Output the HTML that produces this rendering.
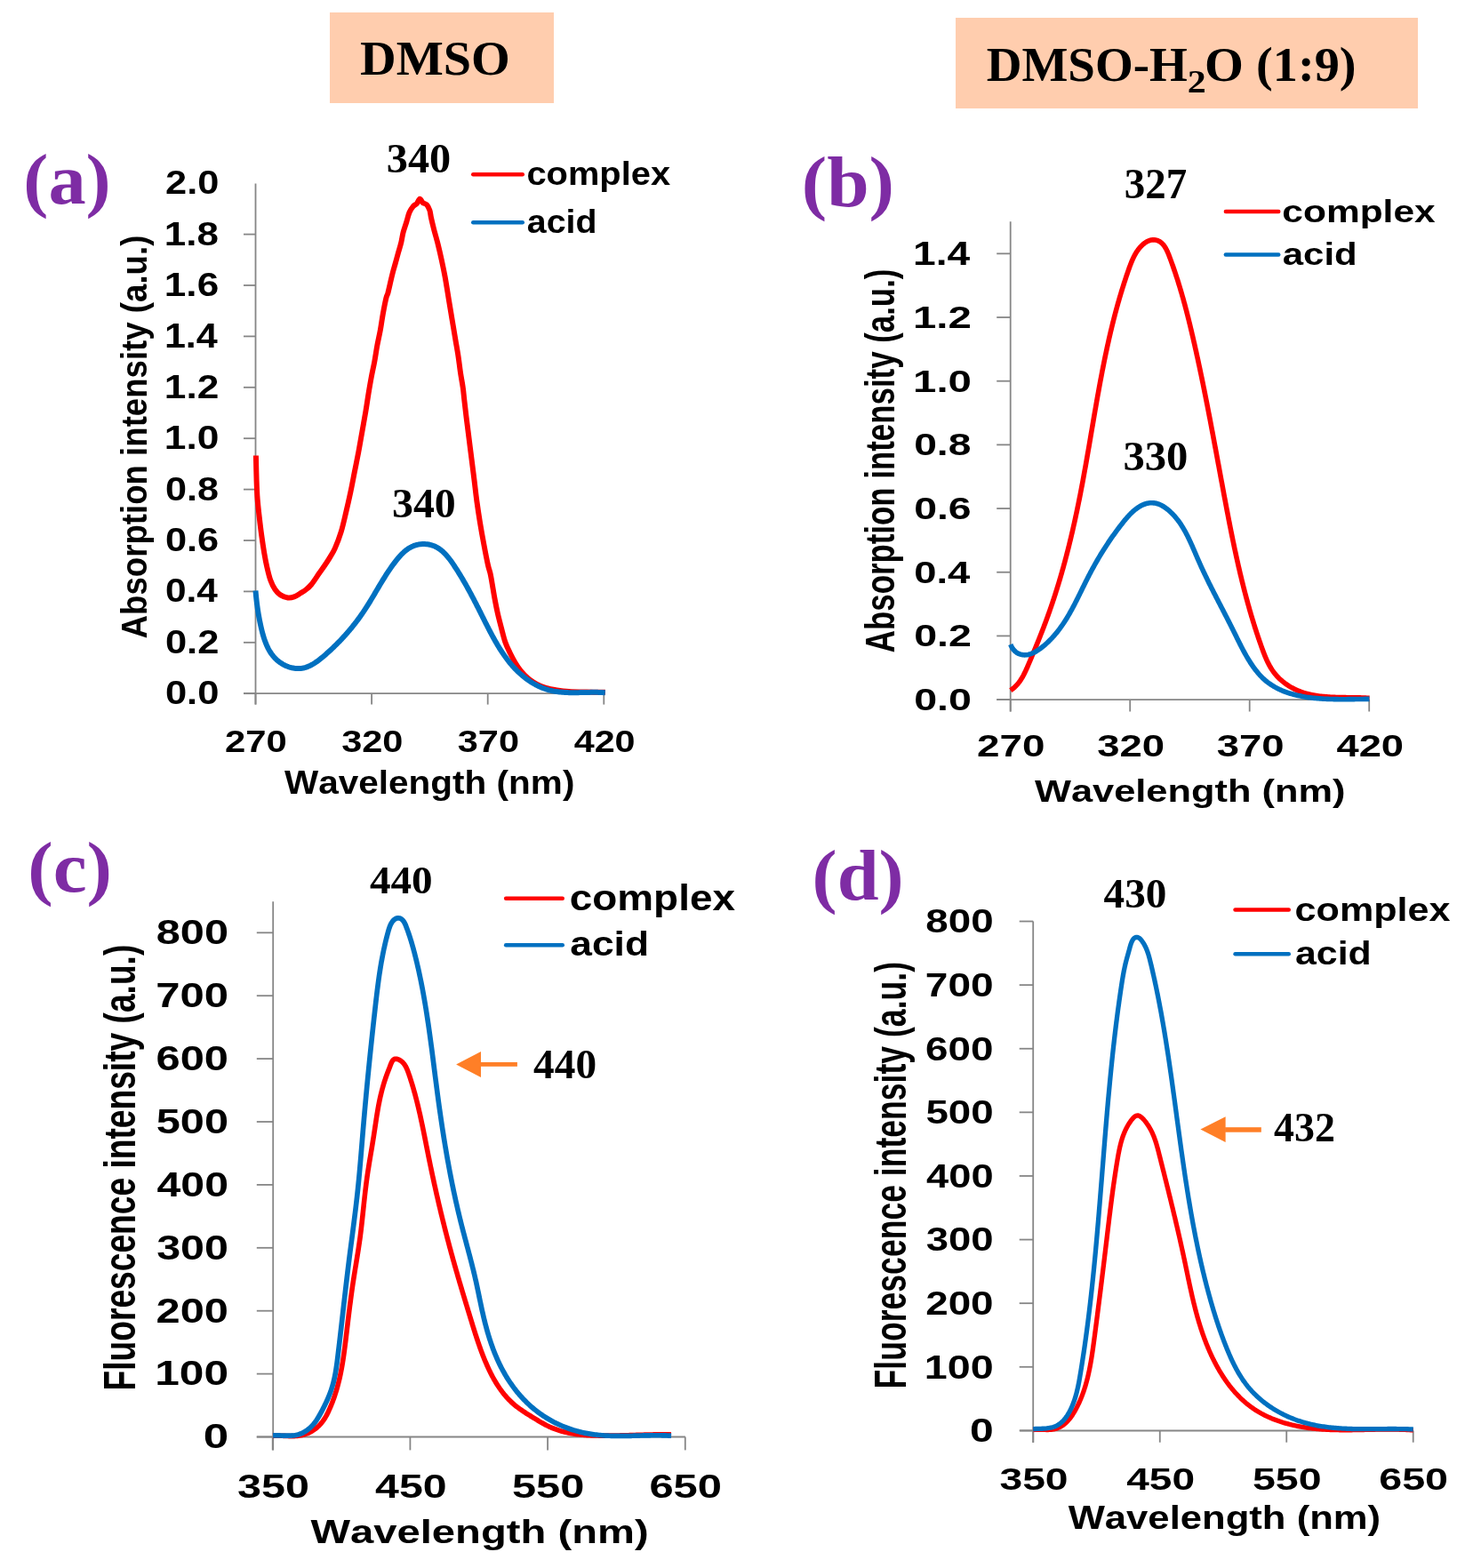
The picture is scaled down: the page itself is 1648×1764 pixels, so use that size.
<!DOCTYPE html>
<html><head><meta charset="utf-8"><title>Absorption and fluorescence spectra</title>
<style>
html,body{margin:0;padding:0;background:#fff;}
svg{display:block;}
text{font-kerning:none;font-variant-ligatures:none;}
</style></head><body>
<svg xmlns="http://www.w3.org/2000/svg" width="1648" height="1764" viewBox="0 0 1648 1764">
<rect width="1648" height="1764" fill="#fff"/>
<rect x="371" y="14" width="252" height="102" fill="#FFCDAE"/>
<text transform="translate(405.01 84.4) scale(1.0174 1)" font-family='"Liberation Serif", "Times New Roman", serif' font-weight="bold" font-size="55.29" fill="#000">DMSO</text>
<rect x="1075" y="20" width="520" height="102" fill="#FFCDAE"/>
<text transform="translate(1109.73 90.7) scale(1.0007 1)" font-family='"Liberation Serif", "Times New Roman", serif' font-weight="bold" font-size="54.98" fill="#000">DMSO-H</text>
<text transform="translate(1335.84 104.1) scale(1.1518 1)" font-family='"Liberation Serif", "Times New Roman", serif' font-weight="bold" font-size="36.4" fill="#000">2</text>
<text transform="translate(1354.95 90.7) scale(1.0259 1)" font-family='"Liberation Serif", "Times New Roman", serif' font-weight="bold" font-size="54.98" fill="#000">O (1:9)</text>
<text transform="translate(26.29 229.41) scale(1.0513 1)" font-family='"Liberation Serif", "Times New Roman", serif' font-weight="bold" font-size="80.29" fill="#7E2CA4">(a)</text>
<line x1="287.5" y1="206.4" x2="287.5" y2="792.6" stroke="#868686" stroke-width="1.8" stroke-linecap="butt"/>
<line x1="274" y1="780.2" x2="287.5" y2="780.2" stroke="#868686" stroke-width="1.8" stroke-linecap="butt"/>
<line x1="274" y1="722.8" x2="287.5" y2="722.8" stroke="#868686" stroke-width="1.8" stroke-linecap="butt"/>
<line x1="274" y1="665.4" x2="287.5" y2="665.4" stroke="#868686" stroke-width="1.8" stroke-linecap="butt"/>
<line x1="274" y1="608" x2="287.5" y2="608" stroke="#868686" stroke-width="1.8" stroke-linecap="butt"/>
<line x1="274" y1="550.6" x2="287.5" y2="550.6" stroke="#868686" stroke-width="1.8" stroke-linecap="butt"/>
<line x1="274" y1="493.2" x2="287.5" y2="493.2" stroke="#868686" stroke-width="1.8" stroke-linecap="butt"/>
<line x1="274" y1="435.8" x2="287.5" y2="435.8" stroke="#868686" stroke-width="1.8" stroke-linecap="butt"/>
<line x1="274" y1="378.4" x2="287.5" y2="378.4" stroke="#868686" stroke-width="1.8" stroke-linecap="butt"/>
<line x1="274" y1="321" x2="287.5" y2="321" stroke="#868686" stroke-width="1.8" stroke-linecap="butt"/>
<line x1="274" y1="263.6" x2="287.5" y2="263.6" stroke="#868686" stroke-width="1.8" stroke-linecap="butt"/>
<line x1="274" y1="780.2" x2="679.3" y2="780.2" stroke="#868686" stroke-width="1.8" stroke-linecap="butt"/>
<line x1="287.5" y1="780.2" x2="287.5" y2="792.6" stroke="#868686" stroke-width="1.8" stroke-linecap="butt"/>
<line x1="418.1" y1="780.2" x2="418.1" y2="792.6" stroke="#868686" stroke-width="1.8" stroke-linecap="butt"/>
<line x1="548.7" y1="780.2" x2="548.7" y2="792.6" stroke="#868686" stroke-width="1.8" stroke-linecap="butt"/>
<line x1="679.3" y1="780.2" x2="679.3" y2="792.6" stroke="#868686" stroke-width="1.8" stroke-linecap="butt"/>
<text transform="translate(185.88 792.24) scale(1.1673 1)" font-family='"Liberation Sans", Arial, sans-serif' font-weight="bold" font-size="37.29" fill="#000">0.0</text>
<text transform="translate(185.88 734.84) scale(1.1664 1)" font-family='"Liberation Sans", Arial, sans-serif' font-weight="bold" font-size="37.29" fill="#000">0.2</text>
<text transform="translate(185.92 677.44) scale(1.1364 1)" font-family='"Liberation Sans", Arial, sans-serif' font-weight="bold" font-size="37.29" fill="#000">0.4</text>
<text transform="translate(185.88 620.04) scale(1.1630 1)" font-family='"Liberation Sans", Arial, sans-serif' font-weight="bold" font-size="37.29" fill="#000">0.6</text>
<text transform="translate(185.89 562.64) scale(1.1582 1)" font-family='"Liberation Sans", Arial, sans-serif' font-weight="bold" font-size="37.29" fill="#000">0.8</text>
<text transform="translate(184.81 505.24) scale(1.1886 1)" font-family='"Liberation Sans", Arial, sans-serif' font-weight="bold" font-size="37.29" fill="#000">1.0</text>
<text transform="translate(184.81 448.2) scale(1.1713 1)" font-family='"Liberation Sans", Arial, sans-serif' font-weight="bold" font-size="37.81" fill="#000">1.2</text>
<text transform="translate(184.88 390.8) scale(1.1238 1)" font-family='"Liberation Sans", Arial, sans-serif' font-weight="bold" font-size="38.37" fill="#000">1.4</text>
<text transform="translate(184.82 333.04) scale(1.1841 1)" font-family='"Liberation Sans", Arial, sans-serif' font-weight="bold" font-size="37.29" fill="#000">1.6</text>
<text transform="translate(184.83 275.64) scale(1.1792 1)" font-family='"Liberation Sans", Arial, sans-serif' font-weight="bold" font-size="37.29" fill="#000">1.8</text>
<text transform="translate(186.1 218.24) scale(1.1630 1)" font-family='"Liberation Sans", Arial, sans-serif' font-weight="bold" font-size="37.29" fill="#000">2.0</text>
<text transform="translate(253.05 845.85) scale(1.1748 1)" font-family='"Liberation Sans", Arial, sans-serif' font-weight="bold" font-size="35.59" fill="#000">270</text>
<text transform="translate(384.15 845.8) scale(1.1686 1)" font-family='"Liberation Sans", Arial, sans-serif' font-weight="bold" font-size="35.52" fill="#000">320</text>
<text transform="translate(514.75 845.8) scale(1.1686 1)" font-family='"Liberation Sans", Arial, sans-serif' font-weight="bold" font-size="35.52" fill="#000">370</text>
<text transform="translate(645.67 845.85) scale(1.1606 1)" font-family='"Liberation Sans", Arial, sans-serif' font-weight="bold" font-size="35.59" fill="#000">420</text>
<text transform="translate(319.96 892.5) scale(1.1111 1)" font-family='"Liberation Sans", Arial, sans-serif' font-weight="bold" font-size="36.48" fill="#000">Wavelength (nm)</text>
<text transform="translate(165.3 718.41) rotate(-90) scale(0.8876 1)" font-family='"Liberation Sans", Arial, sans-serif' font-weight="bold" font-size="41.28" fill="#000">Absorption intensity (a.u.)</text>
<text transform="translate(434.78 194.15) scale(1.0381 1)" font-family='"Liberation Serif", "Times New Roman", serif' font-weight="bold" font-size="46.53" fill="#000">340</text>
<text transform="translate(441 582.35) scale(1.0423 1)" font-family='"Liberation Serif", "Times New Roman", serif' font-weight="bold" font-size="45.94" fill="#000">340</text>
<line x1="532.25" y1="196.3" x2="587.75" y2="196.3" stroke="#FF0000" stroke-width="4.5" stroke-linecap="round"/>
<line x1="532.25" y1="250.2" x2="587.75" y2="250.2" stroke="#0070C0" stroke-width="4.5" stroke-linecap="round"/>
<text transform="translate(592.44 207.8) scale(1.0839 1)" font-family='"Liberation Sans", Arial, sans-serif' font-weight="bold" font-size="36.76" fill="#000">complex</text>
<text transform="translate(592.85 261.5) scale(1.0692 1)" font-family='"Liberation Sans", Arial, sans-serif' font-weight="bold" font-size="36.76" fill="#000">acid</text>
<path d="M287.9 512.5 C288.02 517.22 288.32 532.68 288.6 540.8 C288.88 548.92 289.08 554.4 289.6 561.2 C290.12 568 290.93 574.8 291.7 581.6 C292.47 588.4 293.27 595.2 294.2 602 C295.13 608.8 296.28 616.43 297.3 622.4 C298.32 628.37 299.12 632.68 300.3 637.8 C301.48 642.92 302.87 648.85 304.4 653.1 C305.93 657.35 307.63 660.58 309.5 663.3 C311.37 666.02 313.22 667.88 315.6 669.4 C317.98 670.92 321.25 672.07 323.8 672.4 C326.35 672.73 328.52 672.25 330.9 671.4 C333.28 670.55 335.92 668.62 338.1 667.3 C340.28 665.98 341.97 665.13 344 663.5 C346.03 661.87 347.8 660.58 350.3 657.5 C352.8 654.42 356.55 648.5 359 645 C361.45 641.5 362.98 639.48 365 636.5 C367.02 633.52 369.13 630.37 371.1 627.1 C373.07 623.83 374.72 621.63 376.8 616.9 C378.88 612.17 381.52 605.52 383.6 598.7 C385.68 591.88 387.5 583.55 389.3 576 C391.1 568.45 392.8 560.95 394.4 553.4 C396 545.85 397.4 538.27 398.9 530.7 C400.4 523.13 401.98 515.55 403.4 508 C404.82 500.45 406.07 492.95 407.4 485.4 C408.73 477.85 410.22 469.77 411.4 462.7 C412.58 455.63 413.45 449.37 414.5 443 C415.55 436.63 416.57 430.55 417.7 424.5 C418.83 418.45 420.2 412.65 421.3 406.7 C422.4 400.75 423.2 394.75 424.3 388.8 C425.4 382.85 426.82 376.95 427.9 371 C428.98 365.05 429.72 359.07 430.8 353.1 C431.88 347.13 433.48 339.05 434.4 335.2 C435.32 331.35 435.52 332.87 436.3 330 C437.08 327.13 438.18 321.88 439.1 318 C440.02 314.12 440.82 310.47 441.8 306.7 C442.78 302.93 443.95 299.18 445 295.4 C446.05 291.62 447.05 287.78 448.1 284 C449.15 280.22 450.38 276.48 451.3 272.7 C452.22 268.92 452.62 265.08 453.6 261.3 C454.58 257.52 456.05 253.72 457.2 250 C458.35 246.28 459.27 241.95 460.5 239 C461.73 236.05 463.2 233.98 464.6 232.3 C466 230.62 467.62 230.32 468.9 228.9 C470.18 227.48 471.17 223.93 472.3 223.8 C473.43 223.67 474.42 227.02 475.7 228.1 C476.98 229.18 478.72 228.88 480 230.3 C481.28 231.72 482.57 234.15 483.4 236.6 C484.23 239.05 484.22 241.45 485 245 C485.78 248.55 486.78 252.78 488.1 257.9 C489.42 263.02 491.42 269.75 492.9 275.7 C494.38 281.65 495.72 287.65 497 293.6 C498.28 299.55 499.5 305.45 500.6 311.4 C501.7 317.35 502.62 323.35 503.6 329.3 C504.58 335.25 505.52 341.15 506.5 347.1 C507.48 353.05 508.5 359.03 509.5 365 C510.5 370.97 511.5 376.95 512.5 382.9 C513.5 388.85 514.6 394.75 515.5 400.7 C516.4 406.65 517.02 412.65 517.9 418.6 C518.78 424.55 520.07 431.17 520.8 436.4 C521.53 441.63 521.68 444.6 522.3 450 C522.92 455.4 523.63 461.7 524.5 468.8 C525.37 475.9 526.5 484.67 527.5 492.6 C528.5 500.53 529.5 508.47 530.5 516.4 C531.5 524.33 532.52 532.27 533.5 540.2 C534.48 548.13 535.32 556.05 536.4 564 C537.48 571.95 538.7 579.95 540 587.9 C541.3 595.85 542.72 603.77 544.2 611.7 C545.68 619.63 547.68 629.95 548.9 635.5 C550.12 641.05 550.72 641.52 551.5 645 C552.28 648.48 552.78 651.75 553.6 656.4 C554.42 661.05 555.38 667.42 556.4 672.9 C557.42 678.38 558.47 683.83 559.7 689.3 C560.93 694.77 562.37 700.22 563.8 705.7 C565.23 711.18 566.65 717.4 568.3 722.2 C569.95 727 571.85 730.67 573.7 734.5 C575.55 738.33 577.35 741.78 579.4 745.2 C581.45 748.62 583.53 751.98 586 755 C588.47 758.02 591.18 760.83 594.2 763.3 C597.22 765.77 600.8 768.03 604.1 769.8 C607.4 771.57 610.3 772.8 614 773.9 C617.7 775 621.97 775.72 626.3 776.4 C630.63 777.08 634.38 777.63 640 778 C645.62 778.37 653.2 778.47 660 778.6 C666.8 778.73 677.33 778.77 680.8 778.8" fill="none" stroke="#FF0000" stroke-width="6.0" stroke-linejoin="round" stroke-linecap="butt"/>
<path d="M287.49 664.50 L287.63 666.04 L287.76 667.57 L287.91 669.09 L288.05 670.61 L288.21 672.11 L288.37 673.60 L288.53 675.09 L288.70 676.58 L288.88 678.05 L289.06 679.52 L289.25 680.99 L289.45 682.45 L289.66 683.91 L289.87 685.37 L290.09 686.83 L290.31 688.28 L290.55 689.73 L290.79 691.19 L291.05 692.64 L291.31 694.10 L291.58 695.56 L291.86 697.02 L292.15 698.48 L292.44 699.95 L292.75 701.42 L293.07 702.90 L293.40 704.38 L293.74 705.87 L294.09 707.37 L294.45 708.87 L294.83 710.37 L295.22 711.88 L295.63 713.38 L296.05 714.88 L296.50 716.37 L296.96 717.86 L297.45 719.34 L297.96 720.80 L298.50 722.26 L299.06 723.70 L299.65 725.13 L300.26 726.54 L300.91 727.93 L301.59 729.30 L302.30 730.64 L303.04 731.96 L303.82 733.26 L304.64 734.52 L305.49 735.76 L306.39 736.96 L307.32 738.13 L308.30 739.27 L309.32 740.36 L310.38 741.42 L311.48 742.44 L312.62 743.41 L313.79 744.34 L315.00 745.23 L316.24 746.07 L317.50 746.86 L318.80 747.60 L320.11 748.29 L321.45 748.93 L322.81 749.52 L324.18 750.05 L325.56 750.52 L326.96 750.93 L328.37 751.29 L329.78 751.58 L331.20 751.81 L332.63 751.98 L334.05 752.08 L335.47 752.11 L336.88 752.07 L338.29 751.97 L339.69 751.79 L341.07 751.54 L342.45 751.22 L343.81 750.83 L345.16 750.38 L346.50 749.86 L347.83 749.29 L349.15 748.67 L350.45 747.99 L351.75 747.27 L353.03 746.50 L354.30 745.70 L355.57 744.85 L356.82 743.98 L358.06 743.07 L359.29 742.13 L360.52 741.17 L361.73 740.20 L362.93 739.20 L364.13 738.19 L365.32 737.17 L366.49 736.15 L367.66 735.11 L368.82 734.08 L369.97 733.04 L371.11 732.00 L372.25 730.95 L373.37 729.89 L374.49 728.84 L375.60 727.77 L376.70 726.71 L377.79 725.64 L378.87 724.56 L379.94 723.48 L381.01 722.40 L382.07 721.31 L383.12 720.21 L384.16 719.11 L385.19 718.01 L386.22 716.90 L387.23 715.79 L388.24 714.67 L389.24 713.55 L390.24 712.42 L391.22 711.29 L392.20 710.15 L393.16 709.01 L394.12 707.86 L395.08 706.71 L396.02 705.56 L396.96 704.40 L397.89 703.23 L398.81 702.06 L399.72 700.89 L400.63 699.70 L401.53 698.52 L402.42 697.33 L403.30 696.13 L404.18 694.93 L405.04 693.73 L405.91 692.52 L406.76 691.30 L407.60 690.08 L408.44 688.86 L409.27 687.63 L410.10 686.39 L410.91 685.15 L411.72 683.90 L412.52 682.65 L413.32 681.40 L414.11 680.14 L414.90 678.88 L415.68 677.61 L416.45 676.34 L417.23 675.06 L418.00 673.79 L418.76 672.51 L419.53 671.22 L420.29 669.94 L421.05 668.65 L421.81 667.36 L422.58 666.07 L423.34 664.78 L424.10 663.49 L424.86 662.20 L425.63 660.91 L426.40 659.61 L427.17 658.32 L427.94 657.03 L428.72 655.73 L429.50 654.44 L430.29 653.15 L431.08 651.86 L431.88 650.57 L432.69 649.29 L433.50 648.01 L434.32 646.72 L435.14 645.45 L435.98 644.17 L436.82 642.90 L437.68 641.63 L438.54 640.36 L439.41 639.10 L440.30 637.84 L441.19 636.59 L442.10 635.34 L443.02 634.10 L443.95 632.86 L444.90 631.62 L445.85 630.40 L446.83 629.19 L447.82 627.99 L448.83 626.81 L449.85 625.65 L450.89 624.52 L451.96 623.42 L453.04 622.35 L454.14 621.31 L455.27 620.32 L456.41 619.37 L457.58 618.46 L458.78 617.60 L460.00 616.79 L461.25 616.05 L462.52 615.36 L463.82 614.73 L465.15 614.17 L466.50 613.67 L467.88 613.24 L469.27 612.88 L470.68 612.57 L472.10 612.34 L473.52 612.17 L474.96 612.06 L476.40 612.02 L477.84 612.05 L479.27 612.14 L480.70 612.29 L482.12 612.51 L483.53 612.79 L484.92 613.14 L486.30 613.55 L487.65 614.03 L488.98 614.57 L490.28 615.18 L491.56 615.85 L492.80 616.58 L494.01 617.37 L495.20 618.21 L496.35 619.10 L497.49 620.05 L498.59 621.04 L499.68 622.08 L500.73 623.15 L501.77 624.26 L502.79 625.41 L503.79 626.58 L504.76 627.78 L505.72 629.01 L506.66 630.26 L507.59 631.53 L508.50 632.81 L509.40 634.10 L510.28 635.41 L511.15 636.72 L512.01 638.03 L512.86 639.34 L513.70 640.65 L514.53 641.96 L515.35 643.27 L516.16 644.58 L516.96 645.88 L517.76 647.18 L518.55 648.49 L519.33 649.79 L520.10 651.09 L520.86 652.38 L521.62 653.68 L522.37 654.98 L523.12 656.28 L523.86 657.57 L524.59 658.87 L525.31 660.17 L526.04 661.46 L526.75 662.76 L527.46 664.06 L528.17 665.36 L528.87 666.65 L529.57 667.95 L530.26 669.25 L530.96 670.55 L531.64 671.86 L532.33 673.16 L533.01 674.47 L533.69 675.77 L534.36 677.08 L535.04 678.39 L535.71 679.71 L536.38 681.02 L537.05 682.34 L537.72 683.66 L538.39 684.98 L539.06 686.30 L539.72 687.63 L540.39 688.96 L541.06 690.29 L541.73 691.63 L542.40 692.97 L543.07 694.31 L543.74 695.66 L544.41 697.01 L545.09 698.36 L545.76 699.71 L546.44 701.06 L547.13 702.41 L547.81 703.76 L548.50 705.12 L549.19 706.47 L549.89 707.82 L550.59 709.17 L551.30 710.52 L552.01 711.87 L552.72 713.22 L553.44 714.56 L554.17 715.90 L554.90 717.24 L555.64 718.57 L556.39 719.90 L557.14 721.22 L557.90 722.54 L558.66 723.86 L559.44 725.17 L560.22 726.47 L561.01 727.77 L561.81 729.06 L562.62 730.34 L563.43 731.62 L564.26 732.89 L565.10 734.15 L565.94 735.40 L566.80 736.64 L567.66 737.88 L568.54 739.10 L569.43 740.32 L570.33 741.53 L571.24 742.72 L572.16 743.90 L573.10 745.08 L574.05 746.24 L575.01 747.38 L575.98 748.52 L576.97 749.64 L577.97 750.75 L578.99 751.85 L580.02 752.93 L581.06 754.00 L582.12 755.06 L583.19 756.10 L584.28 757.12 L585.39 758.13 L586.51 759.12 L587.64 760.10 L588.79 761.05 L589.96 761.99 L591.14 762.91 L592.33 763.81 L593.54 764.69 L594.76 765.55 L596.00 766.39 L597.25 767.20 L598.51 767.99 L599.79 768.76 L601.08 769.51 L602.38 770.23 L603.70 770.92 L605.03 771.59 L606.37 772.23 L607.72 772.84 L609.08 773.43 L610.46 773.98 L611.85 774.51 L613.25 775.00 L614.66 775.47 L616.08 775.90 L617.51 776.31 L618.95 776.68 L620.41 777.01 L621.87 777.32 L623.34 777.60 L624.82 777.85 L626.31 778.08 L627.80 778.28 L629.31 778.46 L630.81 778.61 L632.33 778.74 L633.85 778.86 L635.37 778.95 L636.90 779.03 L638.43 779.09 L639.97 779.13 L641.51 779.16 L643.05 779.18 L644.59 779.19 L646.14 779.19 L647.68 779.18 L649.23 779.16 L650.77 779.14 L652.31 779.11 L653.86 779.08 L655.40 779.04 L656.94 779.01 L658.47 778.97 L660.00 778.94 L661.53 778.91 L663.05 778.88 L664.57 778.86 L666.08 778.84 L667.59 778.83 L669.09 778.83 L670.58 778.84 L672.07 778.86 L673.55 778.90 L675.01 778.95 L676.47 779.01 L677.92 779.09 L679.36 779.19 L680.79 779.31" fill="none" stroke="#0070C0" stroke-width="6.0" stroke-linejoin="round" stroke-linecap="butt"/>
<text transform="translate(901.75 232.01) scale(1.0571 1)" font-family='"Liberation Serif", "Times New Roman", serif' font-weight="bold" font-size="80.73" fill="#7E2CA4">(b)</text>
<line x1="1136.7" y1="249.2" x2="1136.7" y2="800.5" stroke="#868686" stroke-width="1.8" stroke-linecap="butt"/>
<line x1="1121.2" y1="787.1" x2="1136.7" y2="787.1" stroke="#868686" stroke-width="1.8" stroke-linecap="butt"/>
<line x1="1121.2" y1="715.42" x2="1136.7" y2="715.42" stroke="#868686" stroke-width="1.8" stroke-linecap="butt"/>
<line x1="1121.2" y1="643.74" x2="1136.7" y2="643.74" stroke="#868686" stroke-width="1.8" stroke-linecap="butt"/>
<line x1="1121.2" y1="572.06" x2="1136.7" y2="572.06" stroke="#868686" stroke-width="1.8" stroke-linecap="butt"/>
<line x1="1121.2" y1="500.38" x2="1136.7" y2="500.38" stroke="#868686" stroke-width="1.8" stroke-linecap="butt"/>
<line x1="1121.2" y1="428.7" x2="1136.7" y2="428.7" stroke="#868686" stroke-width="1.8" stroke-linecap="butt"/>
<line x1="1121.2" y1="357.02" x2="1136.7" y2="357.02" stroke="#868686" stroke-width="1.8" stroke-linecap="butt"/>
<line x1="1121.2" y1="285.34" x2="1136.7" y2="285.34" stroke="#868686" stroke-width="1.8" stroke-linecap="butt"/>
<line x1="1121.3" y1="787.1" x2="1540.2" y2="787.1" stroke="#868686" stroke-width="1.8" stroke-linecap="butt"/>
<line x1="1136.7" y1="787.1" x2="1136.7" y2="800.5" stroke="#868686" stroke-width="1.8" stroke-linecap="butt"/>
<line x1="1271.2" y1="787.1" x2="1271.2" y2="800.5" stroke="#868686" stroke-width="1.8" stroke-linecap="butt"/>
<line x1="1405.7" y1="787.1" x2="1405.7" y2="800.5" stroke="#868686" stroke-width="1.8" stroke-linecap="butt"/>
<line x1="1540.2" y1="787.1" x2="1540.2" y2="800.5" stroke="#868686" stroke-width="1.8" stroke-linecap="butt"/>
<text transform="translate(1028.16 799.16) scale(1.3298 1)" font-family='"Liberation Sans", Arial, sans-serif' font-weight="bold" font-size="35.03" fill="#000">0.0</text>
<text transform="translate(1028.16 727.48) scale(1.3288 1)" font-family='"Liberation Sans", Arial, sans-serif' font-weight="bold" font-size="35.03" fill="#000">0.2</text>
<text transform="translate(1028.21 655.8) scale(1.2946 1)" font-family='"Liberation Sans", Arial, sans-serif' font-weight="bold" font-size="35.03" fill="#000">0.4</text>
<text transform="translate(1028.16 584.12) scale(1.3249 1)" font-family='"Liberation Sans", Arial, sans-serif' font-weight="bold" font-size="35.03" fill="#000">0.6</text>
<text transform="translate(1028.17 512.44) scale(1.3195 1)" font-family='"Liberation Sans", Arial, sans-serif' font-weight="bold" font-size="35.03" fill="#000">0.8</text>
<text transform="translate(1027.01 440.76) scale(1.3540 1)" font-family='"Liberation Sans", Arial, sans-serif' font-weight="bold" font-size="35.03" fill="#000">1.0</text>
<text transform="translate(1027.01 369.42) scale(1.3343 1)" font-family='"Liberation Sans", Arial, sans-serif' font-weight="bold" font-size="35.52" fill="#000">1.2</text>
<text transform="translate(1027.09 297.74) scale(1.2803 1)" font-family='"Liberation Sans", Arial, sans-serif' font-weight="bold" font-size="36.05" fill="#000">1.4</text>
<text transform="translate(1099.11 850.66) scale(1.3299 1)" font-family='"Liberation Sans", Arial, sans-serif' font-weight="bold" font-size="34.46" fill="#000">270</text>
<text transform="translate(1234.16 850.61) scale(1.3229 1)" font-family='"Liberation Sans", Arial, sans-serif' font-weight="bold" font-size="34.39" fill="#000">320</text>
<text transform="translate(1368.66 850.61) scale(1.3229 1)" font-family='"Liberation Sans", Arial, sans-serif' font-weight="bold" font-size="34.39" fill="#000">370</text>
<text transform="translate(1503.51 850.66) scale(1.3138 1)" font-family='"Liberation Sans", Arial, sans-serif' font-weight="bold" font-size="34.46" fill="#000">420</text>
<text transform="translate(1163.96 902.3) scale(1.2287 1)" font-family='"Liberation Sans", Arial, sans-serif' font-weight="bold" font-size="35.32" fill="#000">Wavelength (nm)</text>
<text transform="translate(1005.9 734.17) rotate(-90) scale(0.7682 1)" font-family='"Liberation Sans", Arial, sans-serif' font-weight="bold" font-size="45.35" fill="#000">Absorption intensity (a.u.)</text>
<text transform="translate(1264.84 223.33) scale(0.9841 1)" font-family='"Liberation Serif", "Times New Roman", serif' font-weight="bold" font-size="47.63" fill="#000">327</text>
<text transform="translate(1263.47 529.45) scale(1.0625 1)" font-family='"Liberation Serif", "Times New Roman", serif' font-weight="bold" font-size="45.79" fill="#000">330</text>
<line x1="1378.85" y1="238" x2="1438.25" y2="238" stroke="#FF0000" stroke-width="4.5" stroke-linecap="round"/>
<line x1="1378.85" y1="286.5" x2="1438.25" y2="286.5" stroke="#0070C0" stroke-width="4.5" stroke-linecap="round"/>
<text transform="translate(1442.34 249.8) scale(1.1986 1)" font-family='"Liberation Sans", Arial, sans-serif' font-weight="bold" font-size="35.45" fill="#000">complex</text>
<text transform="translate(1442.77 297.6) scale(1.1843 1)" font-family='"Liberation Sans", Arial, sans-serif' font-weight="bold" font-size="35.45" fill="#000">acid</text>
<path d="M1136.80 776.61 L1138.09 775.71 L1139.32 774.77 L1140.50 773.80 L1141.63 772.79 L1142.71 771.74 L1143.74 770.66 L1144.73 769.55 L1145.67 768.41 L1146.57 767.24 L1147.44 766.05 L1148.26 764.83 L1149.06 763.59 L1149.83 762.33 L1150.56 761.04 L1151.28 759.74 L1151.97 758.42 L1152.63 757.09 L1153.28 755.75 L1153.92 754.39 L1154.54 753.03 L1155.15 751.66 L1155.75 750.28 L1156.34 748.89 L1156.93 747.51 L1157.52 746.12 L1158.11 744.74 L1158.70 743.35 L1159.28 741.96 L1159.87 740.57 L1160.46 739.18 L1161.04 737.79 L1161.62 736.40 L1162.20 735.01 L1162.78 733.62 L1163.36 732.23 L1163.94 730.83 L1164.51 729.44 L1165.09 728.05 L1165.66 726.65 L1166.23 725.26 L1166.80 723.86 L1167.36 722.46 L1167.93 721.07 L1168.49 719.67 L1169.05 718.27 L1169.61 716.87 L1170.17 715.47 L1170.72 714.07 L1171.27 712.67 L1171.82 711.26 L1172.37 709.86 L1172.92 708.46 L1173.46 707.05 L1174.00 705.65 L1174.53 704.24 L1175.07 702.83 L1175.60 701.43 L1176.13 700.02 L1176.65 698.61 L1177.17 697.20 L1177.69 695.79 L1178.21 694.37 L1178.72 692.96 L1179.23 691.55 L1179.73 690.13 L1180.24 688.72 L1180.73 687.30 L1181.23 685.88 L1181.72 684.46 L1182.21 683.05 L1182.70 681.63 L1183.19 680.21 L1183.67 678.78 L1184.14 677.36 L1184.62 675.94 L1185.09 674.52 L1185.56 673.09 L1186.03 671.67 L1186.49 670.24 L1186.95 668.81 L1187.41 667.39 L1187.86 665.96 L1188.31 664.53 L1188.76 663.10 L1189.21 661.67 L1189.65 660.24 L1190.09 658.80 L1190.53 657.37 L1190.96 655.94 L1191.39 654.50 L1191.82 653.07 L1192.25 651.63 L1192.67 650.19 L1193.09 648.76 L1193.51 647.32 L1193.93 645.88 L1194.34 644.44 L1194.75 643.00 L1195.16 641.56 L1195.57 640.12 L1195.97 638.67 L1196.37 637.23 L1196.77 635.79 L1197.16 634.34 L1197.56 632.90 L1197.95 631.45 L1198.33 630.01 L1198.72 628.56 L1199.10 627.11 L1199.48 625.66 L1199.86 624.21 L1200.24 622.76 L1200.61 621.31 L1200.99 619.86 L1201.36 618.41 L1201.72 616.96 L1202.09 615.51 L1202.45 614.05 L1202.81 612.60 L1203.17 611.14 L1203.52 609.69 L1203.88 608.23 L1204.23 606.78 L1204.58 605.32 L1204.93 603.86 L1205.27 602.40 L1205.62 600.94 L1205.96 599.49 L1206.30 598.03 L1206.64 596.57 L1206.97 595.10 L1207.30 593.64 L1207.64 592.18 L1207.97 590.72 L1208.29 589.25 L1208.62 587.79 L1208.94 586.33 L1209.27 584.86 L1209.59 583.40 L1209.90 581.93 L1210.22 580.46 L1210.54 579.00 L1210.85 577.53 L1211.16 576.06 L1211.47 574.59 L1211.78 573.12 L1212.08 571.66 L1212.39 570.19 L1212.69 568.72 L1212.99 567.24 L1213.29 565.77 L1213.59 564.30 L1213.89 562.83 L1214.18 561.36 L1214.47 559.88 L1214.77 558.41 L1215.06 556.94 L1215.34 555.46 L1215.63 553.99 L1215.92 552.51 L1216.20 551.04 L1216.48 549.56 L1216.77 548.08 L1217.05 546.61 L1217.33 545.13 L1217.60 543.65 L1217.88 542.17 L1218.16 540.70 L1218.43 539.22 L1218.70 537.74 L1218.97 536.26 L1219.24 534.78 L1219.51 533.30 L1219.78 531.82 L1220.05 530.34 L1220.32 528.86 L1220.58 527.38 L1220.85 525.90 L1221.11 524.42 L1221.38 522.93 L1221.64 521.45 L1221.90 519.97 L1222.16 518.49 L1222.42 517.00 L1222.68 515.52 L1222.94 514.04 L1223.20 512.56 L1223.46 511.07 L1223.72 509.59 L1223.97 508.11 L1224.23 506.62 L1224.48 505.14 L1224.74 503.66 L1225.00 502.17 L1225.25 500.69 L1225.50 499.21 L1225.76 497.72 L1226.01 496.24 L1226.27 494.75 L1226.52 493.27 L1226.77 491.79 L1227.03 490.30 L1227.28 488.82 L1227.53 487.33 L1227.79 485.85 L1228.04 484.37 L1228.29 482.88 L1228.54 481.40 L1228.80 479.91 L1229.05 478.43 L1229.30 476.95 L1229.56 475.46 L1229.81 473.98 L1230.06 472.50 L1230.32 471.01 L1230.57 469.53 L1230.83 468.05 L1231.08 466.56 L1231.34 465.08 L1231.60 463.60 L1231.85 462.12 L1232.11 460.63 L1232.37 459.15 L1232.62 457.67 L1232.88 456.19 L1233.14 454.71 L1233.40 453.23 L1233.66 451.75 L1233.92 450.27 L1234.19 448.79 L1234.45 447.31 L1234.71 445.83 L1234.98 444.35 L1235.24 442.87 L1235.51 441.39 L1235.78 439.91 L1236.04 438.43 L1236.31 436.96 L1236.58 435.48 L1236.85 434.00 L1237.13 432.53 L1237.40 431.05 L1237.67 429.57 L1237.95 428.10 L1238.23 426.62 L1238.50 425.15 L1238.78 423.68 L1239.06 422.20 L1239.35 420.73 L1239.63 419.26 L1239.91 417.78 L1240.20 416.31 L1240.49 414.84 L1240.78 413.37 L1241.07 411.90 L1241.36 410.43 L1241.65 408.96 L1241.95 407.49 L1242.24 406.03 L1242.54 404.56 L1242.84 403.09 L1243.14 401.63 L1243.45 400.16 L1243.75 398.70 L1244.06 397.23 L1244.37 395.77 L1244.68 394.31 L1245.00 392.84 L1245.31 391.38 L1245.63 389.92 L1245.95 388.46 L1246.27 387.00 L1246.59 385.54 L1246.92 384.08 L1247.24 382.63 L1247.57 381.17 L1247.90 379.71 L1248.24 378.26 L1248.57 376.80 L1248.91 375.35 L1249.25 373.90 L1249.60 372.44 L1249.94 370.99 L1250.29 369.54 L1250.64 368.09 L1251.00 366.64 L1251.35 365.19 L1251.71 363.74 L1252.07 362.29 L1252.44 360.84 L1252.80 359.39 L1253.17 357.95 L1253.55 356.50 L1253.92 355.05 L1254.30 353.61 L1254.68 352.16 L1255.07 350.71 L1255.46 349.27 L1255.85 347.82 L1256.24 346.38 L1256.64 344.93 L1257.04 343.49 L1257.44 342.04 L1257.85 340.60 L1258.26 339.15 L1258.68 337.71 L1259.09 336.26 L1259.51 334.82 L1259.94 333.37 L1260.37 331.93 L1260.80 330.48 L1261.24 329.04 L1261.67 327.59 L1262.12 326.15 L1262.56 324.70 L1263.02 323.26 L1263.47 321.81 L1263.93 320.36 L1264.39 318.92 L1264.86 317.47 L1265.33 316.02 L1265.80 314.58 L1266.28 313.13 L1266.77 311.68 L1267.25 310.23 L1267.75 308.78 L1268.24 307.34 L1268.74 305.89 L1269.25 304.44 L1269.76 302.98 L1270.27 301.53 L1270.80 300.09 L1271.33 298.64 L1271.87 297.20 L1272.43 295.77 L1273.01 294.35 L1273.60 292.94 L1274.22 291.54 L1274.86 290.16 L1275.53 288.80 L1276.22 287.45 L1276.95 286.13 L1277.71 284.82 L1278.50 283.55 L1279.33 282.30 L1280.20 281.07 L1281.12 279.88 L1282.08 278.72 L1283.08 277.60 L1284.14 276.51 L1285.24 275.47 L1286.38 274.48 L1287.55 273.56 L1288.76 272.72 L1290.00 271.96 L1291.27 271.30 L1292.55 270.75 L1293.85 270.31 L1295.17 270.00 L1296.49 269.83 L1297.81 269.79 L1299.12 269.89 L1300.41 270.11 L1301.68 270.46 L1302.90 270.92 L1304.08 271.50 L1305.20 272.18 L1306.26 272.97 L1307.25 273.86 L1308.19 274.83 L1309.07 275.89 L1309.90 277.02 L1310.68 278.21 L1311.43 279.47 L1312.13 280.79 L1312.80 282.15 L1313.45 283.55 L1314.06 284.98 L1314.66 286.43 L1315.24 287.91 L1315.80 289.39 L1316.35 290.88 L1316.90 292.37 L1317.45 293.86 L1317.98 295.34 L1318.51 296.82 L1319.04 298.30 L1319.56 299.78 L1320.07 301.26 L1320.58 302.74 L1321.09 304.21 L1321.59 305.68 L1322.08 307.15 L1322.57 308.62 L1323.05 310.09 L1323.53 311.55 L1324.00 313.02 L1324.47 314.48 L1324.94 315.94 L1325.40 317.41 L1325.85 318.86 L1326.30 320.32 L1326.75 321.78 L1327.19 323.24 L1327.63 324.69 L1328.06 326.15 L1328.49 327.60 L1328.92 329.05 L1329.34 330.50 L1329.76 331.95 L1330.17 333.40 L1330.58 334.85 L1330.99 336.30 L1331.39 337.75 L1331.79 339.20 L1332.19 340.65 L1332.58 342.09 L1332.97 343.54 L1333.36 344.98 L1333.74 346.43 L1334.12 347.87 L1334.50 349.32 L1334.88 350.76 L1335.25 352.21 L1335.62 353.65 L1335.99 355.10 L1336.36 356.54 L1336.72 357.99 L1337.08 359.43 L1337.44 360.87 L1337.79 362.32 L1338.15 363.76 L1338.50 365.21 L1338.85 366.65 L1339.20 368.10 L1339.55 369.55 L1339.89 370.99 L1340.23 372.44 L1340.58 373.89 L1340.92 375.34 L1341.26 376.78 L1341.59 378.23 L1341.93 379.68 L1342.27 381.13 L1342.60 382.59 L1342.93 384.04 L1343.27 385.49 L1343.60 386.94 L1343.93 388.40 L1344.25 389.85 L1344.58 391.31 L1344.91 392.76 L1345.23 394.22 L1345.56 395.68 L1345.88 397.13 L1346.20 398.59 L1346.52 400.05 L1346.84 401.51 L1347.16 402.97 L1347.48 404.43 L1347.79 405.89 L1348.11 407.35 L1348.42 408.81 L1348.74 410.28 L1349.05 411.74 L1349.36 413.20 L1349.67 414.67 L1349.98 416.13 L1350.29 417.60 L1350.60 419.06 L1350.90 420.53 L1351.21 422.00 L1351.52 423.46 L1351.82 424.93 L1352.12 426.40 L1352.43 427.86 L1352.73 429.33 L1353.03 430.80 L1353.33 432.27 L1353.63 433.74 L1353.93 435.21 L1354.22 436.68 L1354.52 438.15 L1354.82 439.62 L1355.11 441.10 L1355.41 442.57 L1355.70 444.04 L1356.00 445.51 L1356.29 446.99 L1356.58 448.46 L1356.87 449.93 L1357.16 451.41 L1357.45 452.88 L1357.74 454.36 L1358.03 455.83 L1358.32 457.31 L1358.61 458.78 L1358.90 460.26 L1359.18 461.73 L1359.47 463.21 L1359.75 464.69 L1360.04 466.16 L1360.32 467.64 L1360.61 469.12 L1360.89 470.60 L1361.17 472.07 L1361.46 473.55 L1361.74 475.03 L1362.02 476.51 L1362.30 477.99 L1362.58 479.47 L1362.86 480.94 L1363.14 482.42 L1363.42 483.90 L1363.70 485.38 L1363.98 486.86 L1364.26 488.34 L1364.54 489.82 L1364.81 491.30 L1365.09 492.78 L1365.37 494.26 L1365.65 495.74 L1365.92 497.22 L1366.20 498.70 L1366.48 500.18 L1366.75 501.66 L1367.03 503.14 L1367.30 504.62 L1367.58 506.10 L1367.85 507.59 L1368.13 509.07 L1368.40 510.55 L1368.68 512.03 L1368.95 513.51 L1369.23 514.99 L1369.50 516.47 L1369.78 517.95 L1370.05 519.43 L1370.32 520.91 L1370.60 522.39 L1370.87 523.87 L1371.15 525.35 L1371.42 526.83 L1371.69 528.32 L1371.97 529.80 L1372.24 531.28 L1372.51 532.76 L1372.79 534.24 L1373.06 535.72 L1373.34 537.20 L1373.61 538.68 L1373.89 540.16 L1374.16 541.64 L1374.43 543.12 L1374.71 544.60 L1374.98 546.07 L1375.26 547.55 L1375.53 549.03 L1375.81 550.51 L1376.08 551.99 L1376.36 553.47 L1376.63 554.95 L1376.91 556.42 L1377.19 557.90 L1377.46 559.38 L1377.74 560.86 L1378.02 562.33 L1378.29 563.81 L1378.57 565.29 L1378.85 566.76 L1379.13 568.24 L1379.41 569.72 L1379.69 571.19 L1379.97 572.67 L1380.25 574.14 L1380.53 575.62 L1380.81 577.09 L1381.09 578.57 L1381.38 580.04 L1381.66 581.52 L1381.95 582.99 L1382.23 584.46 L1382.52 585.94 L1382.81 587.41 L1383.09 588.88 L1383.38 590.35 L1383.67 591.83 L1383.96 593.30 L1384.26 594.77 L1384.55 596.24 L1384.84 597.71 L1385.14 599.18 L1385.43 600.65 L1385.73 602.12 L1386.03 603.59 L1386.33 605.06 L1386.63 606.53 L1386.93 608.00 L1387.24 609.47 L1387.54 610.93 L1387.85 612.40 L1388.15 613.87 L1388.46 615.33 L1388.77 616.80 L1389.08 618.27 L1389.40 619.73 L1389.71 621.20 L1390.03 622.66 L1390.35 624.13 L1390.67 625.59 L1390.99 627.05 L1391.31 628.52 L1391.63 629.98 L1391.96 631.44 L1392.29 632.90 L1392.62 634.36 L1392.95 635.83 L1393.28 637.29 L1393.62 638.75 L1393.96 640.21 L1394.30 641.66 L1394.64 643.12 L1394.98 644.58 L1395.32 646.04 L1395.67 647.50 L1396.02 648.95 L1396.37 650.41 L1396.73 651.87 L1397.08 653.32 L1397.44 654.78 L1397.80 656.23 L1398.16 657.69 L1398.53 659.14 L1398.89 660.59 L1399.26 662.04 L1399.63 663.50 L1400.01 664.95 L1400.39 666.40 L1400.76 667.85 L1401.15 669.30 L1401.53 670.75 L1401.92 672.20 L1402.31 673.65 L1402.70 675.09 L1403.09 676.54 L1403.49 677.99 L1403.89 679.43 L1404.29 680.88 L1404.70 682.32 L1405.10 683.77 L1405.52 685.21 L1405.93 686.65 L1406.35 688.10 L1406.77 689.54 L1407.19 690.98 L1407.61 692.42 L1408.04 693.86 L1408.47 695.30 L1408.91 696.74 L1409.35 698.18 L1409.79 699.62 L1410.23 701.05 L1410.68 702.49 L1411.13 703.93 L1411.58 705.36 L1412.04 706.80 L1412.50 708.23 L1412.96 709.66 L1413.43 711.10 L1413.90 712.53 L1414.37 713.96 L1414.85 715.39 L1415.33 716.82 L1415.81 718.25 L1416.30 719.68 L1416.79 721.11 L1417.29 722.53 L1417.78 723.96 L1418.29 725.39 L1418.79 726.81 L1419.30 728.24 L1419.81 729.66 L1420.33 731.08 L1420.86 732.50 L1421.39 733.92 L1421.93 735.33 L1422.48 736.73 L1423.05 738.13 L1423.63 739.52 L1424.22 740.90 L1424.83 742.27 L1425.46 743.63 L1426.10 744.98 L1426.77 746.32 L1427.46 747.64 L1428.17 748.95 L1428.91 750.24 L1429.67 751.52 L1430.46 752.78 L1431.27 754.02 L1432.12 755.24 L1433.00 756.44 L1433.91 757.62 L1434.86 758.77 L1435.83 759.91 L1436.84 761.01 L1437.88 762.10 L1438.95 763.16 L1440.05 764.20 L1441.17 765.21 L1442.31 766.19 L1443.49 767.15 L1444.68 768.09 L1445.89 768.99 L1447.13 769.87 L1448.38 770.72 L1449.66 771.54 L1450.95 772.34 L1452.25 773.10 L1453.57 773.84 L1454.90 774.54 L1456.24 775.21 L1457.59 775.86 L1458.96 776.47 L1460.33 777.05 L1461.71 777.61 L1463.10 778.14 L1464.50 778.63 L1465.91 779.11 L1467.33 779.55 L1468.75 779.98 L1470.18 780.37 L1471.62 780.75 L1473.06 781.10 L1474.52 781.42 L1475.97 781.73 L1477.44 782.02 L1478.91 782.28 L1480.38 782.53 L1481.87 782.76 L1483.35 782.97 L1484.84 783.17 L1486.34 783.34 L1487.83 783.51 L1489.34 783.66 L1490.84 783.79 L1492.35 783.91 L1493.86 784.02 L1495.38 784.12 L1496.89 784.21 L1498.41 784.28 L1499.93 784.35 L1501.45 784.41 L1502.97 784.46 L1504.49 784.50 L1506.02 784.54 L1507.54 784.57 L1509.06 784.60 L1510.59 784.63 L1512.11 784.65 L1513.63 784.66 L1515.15 784.68 L1516.67 784.69 L1518.18 784.71 L1519.70 784.72 L1521.21 784.74 L1522.72 784.76 L1524.22 784.78 L1525.72 784.80 L1527.22 784.83 L1528.72 784.87 L1530.21 784.91 L1531.69 784.95 L1533.17 785.00 L1534.65 785.07 L1536.12 785.14 L1537.58 785.22 L1539.04 785.31 L1540.50 785.41" fill="none" stroke="#FF0000" stroke-width="5.6" stroke-linejoin="round" stroke-linecap="butt"/>
<path d="M1136.78 724.97 L1137.50 726.68 L1138.31 728.24 L1139.21 729.66 L1140.18 730.94 L1141.22 732.10 L1142.33 733.12 L1143.49 734.01 L1144.70 734.77 L1145.95 735.41 L1147.24 735.93 L1148.55 736.33 L1149.89 736.62 L1151.24 736.79 L1152.60 736.85 L1153.96 736.81 L1155.32 736.66 L1156.68 736.42 L1158.03 736.08 L1159.38 735.66 L1160.73 735.16 L1162.06 734.59 L1163.39 733.94 L1164.71 733.24 L1166.01 732.48 L1167.31 731.66 L1168.59 730.80 L1169.85 729.91 L1171.10 728.97 L1172.33 728.01 L1173.55 727.03 L1174.74 726.03 L1175.91 725.02 L1177.06 723.99 L1178.19 722.95 L1179.31 721.90 L1180.40 720.83 L1181.48 719.75 L1182.53 718.66 L1183.57 717.56 L1184.59 716.44 L1185.60 715.31 L1186.59 714.18 L1187.56 713.03 L1188.52 711.87 L1189.46 710.70 L1190.39 709.52 L1191.30 708.33 L1192.20 707.13 L1193.08 705.92 L1193.96 704.70 L1194.81 703.48 L1195.66 702.24 L1196.50 701.00 L1197.32 699.75 L1198.13 698.49 L1198.93 697.23 L1199.72 695.96 L1200.50 694.68 L1201.27 693.39 L1202.04 692.10 L1202.79 690.81 L1203.53 689.50 L1204.27 688.20 L1205.00 686.88 L1205.72 685.57 L1206.44 684.24 L1207.15 682.92 L1207.85 681.59 L1208.55 680.25 L1209.24 678.92 L1209.93 677.58 L1210.62 676.23 L1211.30 674.89 L1211.97 673.54 L1212.65 672.19 L1213.32 670.84 L1213.99 669.49 L1214.66 668.13 L1215.32 666.78 L1215.99 665.42 L1216.65 664.07 L1217.31 662.71 L1217.98 661.36 L1218.64 660.00 L1219.31 658.65 L1219.98 657.29 L1220.65 655.94 L1221.32 654.59 L1221.99 653.25 L1222.67 651.90 L1223.35 650.56 L1224.04 649.22 L1224.72 647.88 L1225.42 646.55 L1226.12 645.22 L1226.82 643.89 L1227.52 642.56 L1228.24 641.24 L1228.95 639.92 L1229.67 638.61 L1230.40 637.29 L1231.12 635.98 L1231.86 634.68 L1232.60 633.37 L1233.34 632.07 L1234.09 630.77 L1234.84 629.48 L1235.60 628.19 L1236.37 626.90 L1237.13 625.61 L1237.91 624.33 L1238.69 623.05 L1239.47 621.78 L1240.26 620.50 L1241.05 619.23 L1241.85 617.97 L1242.66 616.70 L1243.47 615.44 L1244.28 614.18 L1245.10 612.93 L1245.93 611.67 L1246.76 610.42 L1247.60 609.18 L1248.44 607.93 L1249.29 606.69 L1250.14 605.46 L1251.00 604.22 L1251.87 602.99 L1252.74 601.76 L1253.62 600.54 L1254.50 599.32 L1255.39 598.10 L1256.29 596.88 L1257.19 595.67 L1258.10 594.46 L1259.01 593.25 L1259.93 592.05 L1260.85 590.84 L1261.79 589.65 L1262.73 588.45 L1263.67 587.26 L1264.63 586.07 L1265.59 584.90 L1266.57 583.73 L1267.57 582.57 L1268.58 581.43 L1269.61 580.30 L1270.66 579.18 L1271.73 578.08 L1272.83 577.01 L1273.95 575.95 L1275.10 574.92 L1276.28 573.91 L1277.48 572.94 L1278.71 572.00 L1279.97 571.11 L1281.24 570.27 L1282.54 569.48 L1283.86 568.75 L1285.20 568.09 L1286.55 567.51 L1287.93 567.00 L1289.32 566.57 L1290.72 566.23 L1292.13 565.98 L1293.55 565.81 L1294.98 565.74 L1296.40 565.75 L1297.82 565.85 L1299.24 566.04 L1300.64 566.31 L1302.02 566.68 L1303.39 567.13 L1304.74 567.67 L1306.07 568.29 L1307.37 568.97 L1308.66 569.72 L1309.92 570.53 L1311.15 571.39 L1312.36 572.29 L1313.54 573.22 L1314.70 574.19 L1315.83 575.18 L1316.93 576.19 L1318.01 577.23 L1319.06 578.29 L1320.09 579.37 L1321.09 580.47 L1322.07 581.59 L1323.03 582.73 L1323.97 583.89 L1324.88 585.06 L1325.78 586.26 L1326.65 587.47 L1327.51 588.70 L1328.35 589.94 L1329.17 591.20 L1329.97 592.47 L1330.76 593.76 L1331.53 595.06 L1332.28 596.37 L1333.03 597.69 L1333.76 599.02 L1334.47 600.36 L1335.18 601.72 L1335.87 603.08 L1336.55 604.45 L1337.22 605.82 L1337.88 607.20 L1338.54 608.59 L1339.18 609.99 L1339.82 611.39 L1340.46 612.79 L1341.08 614.19 L1341.70 615.60 L1342.32 617.01 L1342.93 618.42 L1343.54 619.84 L1344.15 621.25 L1344.75 622.66 L1345.36 624.07 L1345.96 625.48 L1346.57 626.88 L1347.17 628.28 L1347.78 629.68 L1348.39 631.07 L1349.00 632.46 L1349.61 633.84 L1350.23 635.22 L1350.85 636.59 L1351.48 637.95 L1352.10 639.32 L1352.73 640.68 L1353.36 642.03 L1353.99 643.38 L1354.63 644.73 L1355.27 646.07 L1355.91 647.41 L1356.55 648.74 L1357.20 650.08 L1357.84 651.41 L1358.49 652.73 L1359.14 654.06 L1359.80 655.38 L1360.45 656.70 L1361.11 658.02 L1361.77 659.34 L1362.43 660.65 L1363.09 661.96 L1363.75 663.28 L1364.42 664.59 L1365.09 665.90 L1365.75 667.21 L1366.42 668.52 L1367.10 669.82 L1367.77 671.13 L1368.44 672.44 L1369.12 673.75 L1369.79 675.06 L1370.47 676.37 L1371.15 677.68 L1371.83 678.99 L1372.51 680.30 L1373.19 681.61 L1373.87 682.93 L1374.55 684.24 L1375.23 685.56 L1375.91 686.88 L1376.60 688.20 L1377.28 689.53 L1377.97 690.85 L1378.65 692.18 L1379.34 693.51 L1380.02 694.85 L1380.71 696.19 L1381.40 697.53 L1382.08 698.87 L1382.77 700.22 L1383.45 701.58 L1384.14 702.93 L1384.83 704.29 L1385.51 705.66 L1386.20 707.03 L1386.88 708.41 L1387.57 709.79 L1388.25 711.17 L1388.94 712.56 L1389.62 713.95 L1390.31 715.35 L1391.00 716.75 L1391.69 718.14 L1392.38 719.54 L1393.07 720.94 L1393.77 722.34 L1394.47 723.74 L1395.18 725.14 L1395.89 726.53 L1396.60 727.92 L1397.32 729.31 L1398.05 730.69 L1398.78 732.06 L1399.52 733.43 L1400.27 734.80 L1401.02 736.15 L1401.78 737.50 L1402.55 738.84 L1403.33 740.17 L1404.11 741.49 L1404.91 742.79 L1405.72 744.09 L1406.54 745.37 L1407.36 746.64 L1408.20 747.90 L1409.06 749.14 L1409.92 750.37 L1410.80 751.58 L1411.69 752.78 L1412.59 753.95 L1413.51 755.11 L1414.44 756.25 L1415.38 757.38 L1416.34 758.48 L1417.32 759.56 L1418.31 760.62 L1419.32 761.66 L1420.35 762.68 L1421.39 763.67 L1422.46 764.64 L1423.54 765.58 L1424.64 766.50 L1425.75 767.39 L1426.89 768.26 L1428.05 769.10 L1429.22 769.91 L1430.41 770.70 L1431.62 771.46 L1432.84 772.21 L1434.09 772.92 L1435.35 773.62 L1436.62 774.29 L1437.91 774.93 L1439.21 775.56 L1440.53 776.16 L1441.87 776.74 L1443.21 777.30 L1444.57 777.84 L1445.95 778.36 L1447.33 778.86 L1448.73 779.34 L1450.14 779.80 L1451.56 780.24 L1452.99 780.66 L1454.43 781.06 L1455.88 781.45 L1457.34 781.82 L1458.81 782.17 L1460.29 782.50 L1461.78 782.82 L1463.28 783.12 L1464.78 783.41 L1466.29 783.68 L1467.81 783.94 L1469.33 784.18 L1470.86 784.41 L1472.39 784.63 L1473.93 784.83 L1475.48 785.02 L1477.03 785.20 L1478.58 785.36 L1480.13 785.51 L1481.69 785.65 L1483.25 785.78 L1484.82 785.90 L1486.38 786.01 L1487.95 786.11 L1489.52 786.21 L1491.09 786.29 L1492.66 786.36 L1494.22 786.42 L1495.79 786.48 L1497.36 786.53 L1498.92 786.57 L1500.49 786.61 L1502.05 786.64 L1503.61 786.66 L1505.16 786.67 L1506.71 786.69 L1508.26 786.69 L1509.80 786.70 L1511.34 786.69 L1512.87 786.69 L1514.40 786.68 L1515.92 786.67 L1517.44 786.66 L1518.95 786.64 L1520.45 786.62 L1521.94 786.60 L1523.43 786.58 L1524.90 786.56 L1526.37 786.54 L1527.83 786.52 L1529.28 786.49 L1530.72 786.47 L1532.15 786.46 L1533.57 786.44 L1534.97 786.42 L1536.37 786.41 L1537.75 786.40 L1539.12 786.39 L1540.48 786.39" fill="none" stroke="#0070C0" stroke-width="5.6" stroke-linejoin="round" stroke-linecap="butt"/>
<text transform="translate(31.25 1002.65) scale(1.0728 1)" font-family='"Liberation Serif", "Times New Roman", serif' font-weight="bold" font-size="79.63" fill="#7E2CA4">(c)</text>
<line x1="307.2" y1="1014.2" x2="307.2" y2="1631.5" stroke="#868686" stroke-width="1.8" stroke-linecap="butt"/>
<line x1="288.8" y1="1616.5" x2="307.2" y2="1616.5" stroke="#868686" stroke-width="1.8" stroke-linecap="butt"/>
<line x1="288.8" y1="1545.6" x2="307.2" y2="1545.6" stroke="#868686" stroke-width="1.8" stroke-linecap="butt"/>
<line x1="288.8" y1="1474.7" x2="307.2" y2="1474.7" stroke="#868686" stroke-width="1.8" stroke-linecap="butt"/>
<line x1="288.8" y1="1403.8" x2="307.2" y2="1403.8" stroke="#868686" stroke-width="1.8" stroke-linecap="butt"/>
<line x1="288.8" y1="1332.9" x2="307.2" y2="1332.9" stroke="#868686" stroke-width="1.8" stroke-linecap="butt"/>
<line x1="288.8" y1="1262" x2="307.2" y2="1262" stroke="#868686" stroke-width="1.8" stroke-linecap="butt"/>
<line x1="288.8" y1="1191.1" x2="307.2" y2="1191.1" stroke="#868686" stroke-width="1.8" stroke-linecap="butt"/>
<line x1="288.8" y1="1120.2" x2="307.2" y2="1120.2" stroke="#868686" stroke-width="1.8" stroke-linecap="butt"/>
<line x1="288.8" y1="1049.3" x2="307.2" y2="1049.3" stroke="#868686" stroke-width="1.8" stroke-linecap="butt"/>
<line x1="288.8" y1="1616.5" x2="770.9" y2="1616.5" stroke="#868686" stroke-width="1.8" stroke-linecap="butt"/>
<line x1="306.7" y1="1616.5" x2="306.7" y2="1631.4" stroke="#868686" stroke-width="1.8" stroke-linecap="butt"/>
<line x1="461.4" y1="1616.5" x2="461.4" y2="1631.4" stroke="#868686" stroke-width="1.8" stroke-linecap="butt"/>
<line x1="616.1" y1="1616.5" x2="616.1" y2="1631.4" stroke="#868686" stroke-width="1.8" stroke-linecap="butt"/>
<line x1="770.8" y1="1616.5" x2="770.8" y2="1631.4" stroke="#868686" stroke-width="1.8" stroke-linecap="butt"/>
<text transform="translate(228.68 1629.32) scale(1.3300 1)" font-family='"Liberation Sans", Arial, sans-serif' font-weight="bold" font-size="38.42" fill="#000">0</text>
<text transform="translate(174.17 1558.42) scale(1.2928 1)" font-family='"Liberation Sans", Arial, sans-serif' font-weight="bold" font-size="38.42" fill="#000">100</text>
<text transform="translate(175.61 1487.52) scale(1.2698 1)" font-family='"Liberation Sans", Arial, sans-serif' font-weight="bold" font-size="38.42" fill="#000">200</text>
<text transform="translate(176.19 1416.57) scale(1.2631 1)" font-family='"Liberation Sans", Arial, sans-serif' font-weight="bold" font-size="38.34" fill="#000">300</text>
<text transform="translate(176.57 1345.72) scale(1.2544 1)" font-family='"Liberation Sans", Arial, sans-serif' font-weight="bold" font-size="38.42" fill="#000">400</text>
<text transform="translate(175.8 1274.82) scale(1.2667 1)" font-family='"Liberation Sans", Arial, sans-serif' font-weight="bold" font-size="38.42" fill="#000">500</text>
<text transform="translate(175.51 1203.92) scale(1.2714 1)" font-family='"Liberation Sans", Arial, sans-serif' font-weight="bold" font-size="38.42" fill="#000">600</text>
<text transform="translate(175.19 1133.02) scale(1.2765 1)" font-family='"Liberation Sans", Arial, sans-serif' font-weight="bold" font-size="38.42" fill="#000">700</text>
<text transform="translate(175.75 1062.12) scale(1.2675 1)" font-family='"Liberation Sans", Arial, sans-serif' font-weight="bold" font-size="38.42" fill="#000">800</text>
<text transform="translate(266.99 1685.09) scale(1.3130 1)" font-family='"Liberation Sans", Arial, sans-serif' font-weight="bold" font-size="36.93" fill="#000">350</text>
<text transform="translate(422.07 1685.14) scale(1.3040 1)" font-family='"Liberation Sans", Arial, sans-serif' font-weight="bold" font-size="37.01" fill="#000">450</text>
<text transform="translate(576 1685.14) scale(1.3167 1)" font-family='"Liberation Sans", Arial, sans-serif' font-weight="bold" font-size="37.01" fill="#000">550</text>
<text transform="translate(730.41 1685.14) scale(1.3216 1)" font-family='"Liberation Sans", Arial, sans-serif' font-weight="bold" font-size="37.01" fill="#000">650</text>
<text transform="translate(349.45 1736.3) scale(1.2589 1)" font-family='"Liberation Sans", Arial, sans-serif' font-weight="bold" font-size="37.5" fill="#000">Wavelength (nm)</text>
<text transform="translate(152.3 1564.49) rotate(-90) scale(0.7368 1)" font-family='"Liberation Sans", Arial, sans-serif' font-weight="bold" font-size="50.44" fill="#000">Fluorescence intensity (a.u.)</text>
<text transform="translate(415.96 1005.46) scale(1.0468 1)" font-family='"Liberation Serif", "Times New Roman", serif' font-weight="bold" font-size="45.05" fill="#000">440</text>
<text transform="translate(600.05 1212.55) scale(1.0245 1)" font-family='"Liberation Serif", "Times New Roman", serif' font-weight="bold" font-size="46.24" fill="#000">440</text>
<polygon points="513.1,1197.4 541,1183.1 541,1211.9" fill="#FF7F27"/>
<rect x="540.5" y="1195" width="41.4" height="4.8" fill="#FF7F27"/>
<line x1="569.15" y1="1010.7" x2="632.75" y2="1010.7" stroke="#FF0000" stroke-width="4.5" stroke-linecap="round"/>
<line x1="569.15" y1="1063.3" x2="632.75" y2="1063.3" stroke="#0070C0" stroke-width="4.5" stroke-linecap="round"/>
<text transform="translate(640.71 1023.6) scale(1.1551 1)" font-family='"Liberation Sans", Arial, sans-serif' font-weight="bold" font-size="39.76" fill="#000">complex</text>
<text transform="translate(641.2 1074.8) scale(1.1380 1)" font-family='"Liberation Sans", Arial, sans-serif' font-weight="bold" font-size="39.01" fill="#000">acid</text>
<path d="M307.00 1615.41 L308.47 1615.29 L309.94 1615.21 L311.43 1615.18 L312.93 1615.17 L314.44 1615.19 L315.95 1615.23 L317.47 1615.28 L318.99 1615.35 L320.52 1615.42 L322.05 1615.49 L323.57 1615.56 L325.10 1615.61 L326.62 1615.65 L328.13 1615.67 L329.64 1615.66 L331.14 1615.62 L332.62 1615.55 L334.10 1615.43 L335.57 1615.26 L337.02 1615.05 L338.46 1614.79 L339.88 1614.48 L341.30 1614.11 L342.70 1613.70 L344.09 1613.22 L345.47 1612.70 L346.84 1612.11 L348.19 1611.46 L349.53 1610.76 L350.85 1610.00 L352.15 1609.20 L353.43 1608.34 L354.67 1607.43 L355.88 1606.48 L357.05 1605.50 L358.18 1604.47 L359.27 1603.41 L360.30 1602.32 L361.29 1601.19 L362.23 1600.04 L363.13 1598.87 L363.99 1597.66 L364.82 1596.44 L365.60 1595.19 L366.36 1593.92 L367.09 1592.63 L367.78 1591.33 L368.46 1590.00 L369.11 1588.67 L369.75 1587.32 L370.36 1585.97 L370.97 1584.60 L371.56 1583.22 L372.14 1581.84 L372.71 1580.45 L373.27 1579.06 L373.81 1577.66 L374.35 1576.25 L374.87 1574.84 L375.39 1573.42 L375.89 1572.00 L376.38 1570.57 L376.85 1569.14 L377.32 1567.70 L377.78 1566.26 L378.22 1564.82 L378.65 1563.38 L379.07 1561.93 L379.48 1560.48 L379.88 1559.03 L380.27 1557.57 L380.65 1556.12 L381.01 1554.66 L381.37 1553.20 L381.72 1551.74 L382.05 1550.27 L382.38 1548.81 L382.70 1547.34 L383.01 1545.87 L383.31 1544.40 L383.61 1542.93 L383.89 1541.46 L384.17 1539.99 L384.44 1538.51 L384.71 1537.03 L384.97 1535.56 L385.22 1534.08 L385.46 1532.60 L385.70 1531.11 L385.93 1529.63 L386.16 1528.15 L386.38 1526.66 L386.60 1525.18 L386.81 1523.69 L387.02 1522.20 L387.23 1520.72 L387.43 1519.23 L387.62 1517.74 L387.82 1516.25 L388.01 1514.76 L388.20 1513.27 L388.38 1511.78 L388.57 1510.28 L388.75 1508.79 L388.93 1507.30 L389.11 1505.81 L389.29 1504.32 L389.47 1502.82 L389.64 1501.33 L389.82 1499.84 L390.00 1498.34 L390.18 1496.85 L390.35 1495.36 L390.53 1493.87 L390.71 1492.37 L390.89 1490.88 L391.06 1489.39 L391.24 1487.90 L391.42 1486.40 L391.60 1484.91 L391.78 1483.42 L391.96 1481.93 L392.14 1480.44 L392.33 1478.95 L392.51 1477.45 L392.70 1475.96 L392.88 1474.47 L393.07 1472.98 L393.25 1471.49 L393.44 1470.00 L393.63 1468.51 L393.83 1467.02 L394.02 1465.53 L394.21 1464.04 L394.41 1462.55 L394.61 1461.06 L394.80 1459.57 L395.00 1458.08 L395.21 1456.59 L395.41 1455.11 L395.62 1453.62 L395.83 1452.13 L396.04 1450.64 L396.25 1449.16 L396.46 1447.67 L396.68 1446.18 L396.90 1444.70 L397.12 1443.21 L397.34 1441.73 L397.57 1440.24 L397.80 1438.76 L398.03 1437.27 L398.26 1435.79 L398.50 1434.30 L398.73 1432.82 L398.97 1431.34 L399.21 1429.85 L399.45 1428.37 L399.69 1426.89 L399.93 1425.41 L400.18 1423.92 L400.42 1422.44 L400.66 1420.96 L400.90 1419.48 L401.14 1417.99 L401.39 1416.51 L401.63 1415.03 L401.86 1413.55 L402.10 1412.06 L402.34 1410.58 L402.57 1409.10 L402.81 1407.61 L403.04 1406.13 L403.26 1404.65 L403.49 1403.16 L403.71 1401.68 L403.93 1400.19 L404.15 1398.71 L404.36 1397.22 L404.57 1395.74 L404.78 1394.25 L404.98 1392.76 L405.18 1391.27 L405.37 1389.79 L405.56 1388.30 L405.75 1386.81 L405.93 1385.32 L406.12 1383.83 L406.29 1382.34 L406.47 1380.85 L406.64 1379.36 L406.81 1377.86 L406.98 1376.37 L407.15 1374.88 L407.31 1373.39 L407.48 1371.90 L407.64 1370.40 L407.80 1368.91 L407.96 1367.42 L408.12 1365.92 L408.28 1364.43 L408.44 1362.94 L408.59 1361.44 L408.75 1359.95 L408.91 1358.46 L409.07 1356.96 L409.22 1355.47 L409.38 1353.98 L409.54 1352.48 L409.70 1350.99 L409.86 1349.50 L410.03 1348.00 L410.19 1346.51 L410.36 1345.02 L410.53 1343.52 L410.70 1342.03 L410.87 1340.54 L411.04 1339.05 L411.22 1337.55 L411.40 1336.06 L411.58 1334.57 L411.77 1333.08 L411.96 1331.59 L412.15 1330.10 L412.35 1328.61 L412.55 1327.12 L412.75 1325.63 L412.96 1324.14 L413.17 1322.65 L413.39 1321.16 L413.61 1319.67 L413.84 1318.19 L414.06 1316.70 L414.30 1315.21 L414.53 1313.73 L414.77 1312.24 L415.00 1310.76 L415.24 1309.27 L415.49 1307.79 L415.73 1306.30 L415.98 1304.82 L416.23 1303.33 L416.47 1301.85 L416.72 1300.36 L416.97 1298.88 L417.22 1297.40 L417.47 1295.91 L417.72 1294.43 L417.97 1292.95 L418.22 1291.47 L418.47 1289.98 L418.71 1288.50 L418.96 1287.02 L419.20 1285.54 L419.44 1284.06 L419.68 1282.57 L419.92 1281.09 L420.15 1279.61 L420.39 1278.13 L420.61 1276.64 L420.84 1275.16 L421.07 1273.68 L421.29 1272.20 L421.51 1270.72 L421.73 1269.24 L421.95 1267.75 L422.17 1266.27 L422.39 1264.79 L422.62 1263.31 L422.84 1261.83 L423.07 1260.35 L423.29 1258.87 L423.52 1257.38 L423.76 1255.90 L423.99 1254.42 L424.23 1252.94 L424.48 1251.46 L424.73 1249.98 L424.98 1248.50 L425.24 1247.03 L425.51 1245.55 L425.78 1244.07 L426.06 1242.59 L426.35 1241.11 L426.64 1239.63 L426.95 1238.16 L427.26 1236.68 L427.58 1235.20 L427.90 1233.73 L428.24 1232.25 L428.59 1230.78 L428.95 1229.30 L429.32 1227.83 L429.70 1226.35 L430.10 1224.88 L430.50 1223.42 L430.91 1221.96 L431.33 1220.51 L431.77 1219.06 L432.21 1217.63 L432.66 1216.20 L433.12 1214.79 L433.59 1213.39 L434.06 1212.01 L434.55 1210.65 L435.04 1209.30 L435.54 1207.96 L436.05 1206.62 L436.58 1205.26 L437.11 1203.87 L437.66 1202.45 L438.22 1200.98 L438.80 1199.44 L439.39 1197.84 L440.03 1196.24 L440.73 1194.73 L441.53 1193.39 L442.45 1192.30 L443.52 1191.55 L444.76 1191.22 L446.13 1191.29 L447.55 1191.66 L448.94 1192.24 L450.24 1192.96 L451.43 1193.78 L452.52 1194.69 L453.52 1195.70 L454.43 1196.78 L455.26 1197.94 L456.02 1199.16 L456.72 1200.43 L457.37 1201.76 L457.97 1203.12 L458.54 1204.52 L459.07 1205.94 L459.58 1207.37 L460.08 1208.82 L460.57 1210.26 L461.05 1211.71 L461.52 1213.16 L461.99 1214.60 L462.45 1216.05 L462.91 1217.50 L463.35 1218.95 L463.79 1220.40 L464.23 1221.85 L464.66 1223.31 L465.08 1224.76 L465.49 1226.21 L465.90 1227.67 L466.31 1229.12 L466.71 1230.58 L467.10 1232.04 L467.49 1233.49 L467.87 1234.95 L468.25 1236.41 L468.63 1237.87 L469.00 1239.33 L469.36 1240.79 L469.72 1242.25 L470.08 1243.71 L470.43 1245.17 L470.77 1246.63 L471.12 1248.10 L471.46 1249.56 L471.79 1251.02 L472.13 1252.49 L472.46 1253.95 L472.78 1255.42 L473.11 1256.88 L473.43 1258.35 L473.74 1259.81 L474.06 1261.28 L474.37 1262.75 L474.68 1264.21 L474.99 1265.68 L475.30 1267.15 L475.60 1268.62 L475.90 1270.08 L476.20 1271.55 L476.50 1273.02 L476.80 1274.49 L477.09 1275.96 L477.39 1277.43 L477.68 1278.90 L477.98 1280.37 L478.27 1281.84 L478.56 1283.31 L478.85 1284.78 L479.14 1286.25 L479.43 1287.72 L479.72 1289.19 L480.01 1290.66 L480.31 1292.13 L480.60 1293.60 L480.89 1295.07 L481.18 1296.54 L481.47 1298.01 L481.77 1299.48 L482.06 1300.95 L482.36 1302.42 L482.66 1303.89 L482.96 1305.36 L483.26 1306.84 L483.56 1308.31 L483.86 1309.78 L484.17 1311.25 L484.47 1312.72 L484.78 1314.19 L485.09 1315.65 L485.40 1317.12 L485.71 1318.59 L486.02 1320.06 L486.33 1321.53 L486.64 1323.00 L486.96 1324.47 L487.28 1325.94 L487.60 1327.41 L487.92 1328.88 L488.24 1330.34 L488.56 1331.81 L488.88 1333.28 L489.21 1334.75 L489.53 1336.22 L489.86 1337.68 L490.19 1339.15 L490.52 1340.62 L490.85 1342.08 L491.18 1343.55 L491.52 1345.02 L491.85 1346.48 L492.19 1347.95 L492.53 1349.41 L492.87 1350.88 L493.21 1352.34 L493.55 1353.81 L493.89 1355.27 L494.24 1356.74 L494.58 1358.20 L494.93 1359.66 L495.28 1361.13 L495.63 1362.59 L495.98 1364.05 L496.33 1365.52 L496.69 1366.98 L497.04 1368.44 L497.40 1369.90 L497.76 1371.36 L498.12 1372.82 L498.48 1374.28 L498.84 1375.74 L499.20 1377.20 L499.57 1378.66 L499.94 1380.12 L500.30 1381.58 L500.67 1383.04 L501.04 1384.49 L501.42 1385.95 L501.79 1387.41 L502.17 1388.86 L502.54 1390.32 L502.92 1391.77 L503.30 1393.23 L503.68 1394.68 L504.06 1396.14 L504.44 1397.59 L504.83 1399.05 L505.22 1400.50 L505.60 1401.95 L505.99 1403.40 L506.38 1404.85 L506.77 1406.30 L507.17 1407.76 L507.56 1409.21 L507.96 1410.65 L508.36 1412.10 L508.76 1413.55 L509.16 1415.00 L509.56 1416.45 L509.96 1417.89 L510.37 1419.34 L510.77 1420.79 L511.18 1422.23 L511.59 1423.68 L512.00 1425.12 L512.41 1426.56 L512.82 1428.01 L513.24 1429.45 L513.65 1430.89 L514.07 1432.33 L514.49 1433.78 L514.90 1435.22 L515.32 1436.66 L515.75 1438.10 L516.17 1439.54 L516.59 1440.98 L517.01 1442.42 L517.44 1443.86 L517.86 1445.30 L518.29 1446.74 L518.72 1448.17 L519.14 1449.61 L519.57 1451.05 L520.00 1452.49 L520.43 1453.93 L520.86 1455.36 L521.30 1456.80 L521.73 1458.24 L522.16 1459.67 L522.60 1461.11 L523.03 1462.55 L523.47 1463.98 L523.90 1465.42 L524.34 1466.86 L524.77 1468.29 L525.21 1469.73 L525.65 1471.17 L526.09 1472.60 L526.52 1474.04 L526.96 1475.47 L527.40 1476.91 L527.84 1478.34 L528.28 1479.78 L528.72 1481.22 L529.16 1482.65 L529.60 1484.09 L530.04 1485.52 L530.48 1486.96 L530.92 1488.40 L531.37 1489.83 L531.81 1491.27 L532.25 1492.70 L532.70 1494.14 L533.15 1495.57 L533.60 1497.00 L534.05 1498.44 L534.50 1499.87 L534.96 1501.30 L535.42 1502.73 L535.89 1504.16 L536.35 1505.59 L536.83 1507.01 L537.30 1508.44 L537.78 1509.86 L538.27 1511.28 L538.76 1512.70 L539.25 1514.12 L539.75 1515.54 L540.26 1516.95 L540.77 1518.36 L541.28 1519.77 L541.81 1521.18 L542.34 1522.59 L542.88 1523.99 L543.42 1525.39 L543.97 1526.79 L544.53 1528.19 L545.10 1529.58 L545.68 1530.97 L546.26 1532.36 L546.86 1533.74 L547.46 1535.12 L548.07 1536.50 L548.69 1537.87 L549.32 1539.24 L549.96 1540.61 L550.61 1541.97 L551.27 1543.32 L551.95 1544.67 L552.63 1546.02 L553.32 1547.35 L554.03 1548.69 L554.75 1550.01 L555.48 1551.32 L556.22 1552.63 L556.98 1553.93 L557.75 1555.22 L558.53 1556.50 L559.33 1557.77 L560.14 1559.02 L560.97 1560.27 L561.81 1561.51 L562.66 1562.73 L563.53 1563.94 L564.42 1565.14 L565.32 1566.33 L566.24 1567.50 L567.17 1568.66 L568.12 1569.80 L569.09 1570.93 L570.08 1572.04 L571.08 1573.14 L572.10 1574.22 L573.14 1575.29 L574.19 1576.33 L575.27 1577.36 L576.36 1578.37 L577.48 1579.37 L578.61 1580.34 L579.76 1581.29 L580.93 1582.23 L582.12 1583.15 L583.33 1584.05 L584.55 1584.94 L585.78 1585.81 L587.02 1586.67 L588.28 1587.52 L589.54 1588.36 L590.82 1589.20 L592.10 1590.02 L593.38 1590.83 L594.67 1591.64 L595.97 1592.45 L597.26 1593.25 L598.56 1594.05 L599.85 1594.85 L601.15 1595.65 L602.44 1596.44 L603.74 1597.23 L605.04 1598.01 L606.33 1598.79 L607.63 1599.55 L608.94 1600.31 L610.25 1601.05 L611.56 1601.78 L612.88 1602.49 L614.20 1603.19 L615.53 1603.87 L616.87 1604.52 L618.21 1605.16 L619.56 1605.77 L620.93 1606.36 L622.30 1606.92 L623.68 1607.46 L625.07 1607.98 L626.47 1608.47 L627.87 1608.94 L629.29 1609.39 L630.71 1609.81 L632.14 1610.22 L633.57 1610.60 L635.01 1610.97 L636.46 1611.31 L637.92 1611.64 L639.38 1611.94 L640.84 1612.23 L642.31 1612.50 L643.79 1612.76 L645.27 1613.00 L646.76 1613.22 L648.25 1613.42 L649.74 1613.62 L651.24 1613.79 L652.74 1613.96 L654.24 1614.11 L655.75 1614.25 L657.25 1614.37 L658.77 1614.48 L660.28 1614.59 L661.79 1614.68 L663.31 1614.76 L664.83 1614.83 L666.35 1614.89 L667.86 1614.95 L669.38 1614.99 L670.90 1615.03 L672.42 1615.06 L673.94 1615.09 L675.46 1615.11 L676.97 1615.12 L678.49 1615.13 L680.00 1615.13 L681.51 1615.13 L683.02 1615.12 L684.53 1615.12 L686.04 1615.10 L687.54 1615.09 L689.04 1615.07 L690.54 1615.05 L692.04 1615.03 L693.54 1615.00 L695.04 1614.97 L696.54 1614.94 L698.03 1614.91 L699.53 1614.88 L701.02 1614.84 L702.51 1614.80 L704.00 1614.76 L705.50 1614.72 L706.99 1614.68 L708.48 1614.64 L709.97 1614.59 L711.46 1614.55 L712.95 1614.51 L714.44 1614.46 L715.93 1614.42 L717.42 1614.37 L718.91 1614.33 L720.40 1614.29 L721.89 1614.24 L723.39 1614.20 L724.88 1614.16 L726.37 1614.12 L727.87 1614.08 L729.36 1614.05 L730.86 1614.01 L732.35 1613.98 L733.85 1613.94 L735.35 1613.92 L736.85 1613.89 L738.36 1613.86 L739.86 1613.84 L741.37 1613.82 L742.87 1613.81 L744.38 1613.79 L745.89 1613.78 L747.41 1613.78 L748.92 1613.77 L750.44 1613.77 L751.96 1613.78 L753.48 1613.79 L755.00 1613.80" fill="none" stroke="#FF0000" stroke-width="5.6" stroke-linejoin="round" stroke-linecap="butt"/>
<path d="M307.00 1615.00 L308.51 1614.93 L310.01 1614.90 L311.53 1614.90 L313.04 1614.92 L314.55 1614.95 L316.06 1615.00 L317.57 1615.05 L319.08 1615.11 L320.59 1615.15 L322.09 1615.19 L323.58 1615.20 L325.07 1615.19 L326.56 1615.16 L328.03 1615.08 L329.50 1614.96 L330.95 1614.80 L332.40 1614.58 L333.84 1614.30 L335.26 1613.95 L336.67 1613.53 L338.07 1613.04 L339.45 1612.46 L340.81 1611.81 L342.15 1611.09 L343.47 1610.30 L344.75 1609.44 L346.00 1608.54 L347.22 1607.59 L348.39 1606.59 L349.53 1605.55 L350.61 1604.48 L351.64 1603.39 L352.63 1602.26 L353.57 1601.12 L354.47 1599.95 L355.34 1598.76 L356.17 1597.55 L356.97 1596.32 L357.75 1595.07 L358.51 1593.81 L359.24 1592.54 L359.97 1591.25 L360.68 1589.95 L361.38 1588.64 L362.08 1587.32 L362.78 1585.99 L363.46 1584.66 L364.15 1583.32 L364.82 1581.97 L365.49 1580.61 L366.15 1579.25 L366.79 1577.88 L367.43 1576.50 L368.05 1575.12 L368.67 1573.73 L369.26 1572.33 L369.85 1570.93 L370.42 1569.52 L370.97 1568.11 L371.50 1566.69 L372.02 1565.27 L372.52 1563.84 L372.99 1562.41 L373.45 1560.97 L373.89 1559.53 L374.30 1558.09 L374.70 1556.64 L375.08 1555.19 L375.44 1553.73 L375.78 1552.27 L376.11 1550.81 L376.42 1549.35 L376.72 1547.88 L377.01 1546.41 L377.28 1544.94 L377.54 1543.46 L377.79 1541.99 L378.03 1540.51 L378.26 1539.03 L378.48 1537.54 L378.69 1536.06 L378.90 1534.58 L379.10 1533.09 L379.30 1531.60 L379.49 1530.11 L379.67 1528.62 L379.86 1527.13 L380.04 1525.64 L380.22 1524.15 L380.40 1522.66 L380.57 1521.17 L380.75 1519.68 L380.93 1518.19 L381.11 1516.70 L381.28 1515.20 L381.46 1513.71 L381.63 1512.22 L381.81 1510.73 L381.98 1509.24 L382.16 1507.75 L382.33 1506.25 L382.50 1504.76 L382.68 1503.27 L382.85 1501.78 L383.02 1500.28 L383.19 1498.79 L383.36 1497.30 L383.54 1495.81 L383.71 1494.31 L383.88 1492.82 L384.05 1491.33 L384.22 1489.83 L384.39 1488.34 L384.56 1486.85 L384.73 1485.35 L384.90 1483.86 L385.07 1482.37 L385.24 1480.88 L385.41 1479.38 L385.58 1477.89 L385.75 1476.40 L385.92 1474.90 L386.09 1473.41 L386.26 1471.91 L386.43 1470.42 L386.60 1468.93 L386.77 1467.43 L386.94 1465.94 L387.11 1464.45 L387.28 1462.95 L387.46 1461.46 L387.63 1459.97 L387.80 1458.47 L387.97 1456.98 L388.14 1455.49 L388.32 1453.99 L388.49 1452.50 L388.66 1451.01 L388.84 1449.51 L389.01 1448.02 L389.18 1446.53 L389.36 1445.03 L389.53 1443.54 L389.71 1442.05 L389.89 1440.55 L390.06 1439.06 L390.24 1437.57 L390.42 1436.07 L390.60 1434.58 L390.78 1433.09 L390.96 1431.59 L391.14 1430.10 L391.32 1428.61 L391.50 1427.12 L391.68 1425.62 L391.87 1424.13 L392.05 1422.64 L392.24 1421.15 L392.42 1419.65 L392.61 1418.16 L392.79 1416.67 L392.98 1415.18 L393.17 1413.69 L393.36 1412.19 L393.55 1410.70 L393.74 1409.21 L393.93 1407.72 L394.13 1406.23 L394.32 1404.74 L394.51 1403.24 L394.71 1401.75 L394.90 1400.26 L395.09 1398.77 L395.29 1397.28 L395.48 1395.79 L395.68 1394.30 L395.87 1392.81 L396.07 1391.32 L396.26 1389.82 L396.46 1388.33 L396.65 1386.84 L396.84 1385.35 L397.04 1383.86 L397.23 1382.37 L397.42 1380.88 L397.62 1379.39 L397.81 1377.90 L398.00 1376.40 L398.19 1374.91 L398.38 1373.42 L398.57 1371.93 L398.76 1370.44 L398.94 1368.95 L399.13 1367.46 L399.32 1365.97 L399.50 1364.47 L399.68 1362.98 L399.87 1361.49 L400.05 1360.00 L400.23 1358.51 L400.40 1357.02 L400.58 1355.52 L400.76 1354.03 L400.93 1352.54 L401.10 1351.05 L401.27 1349.55 L401.44 1348.06 L401.61 1346.57 L401.78 1345.07 L401.94 1343.58 L402.10 1342.09 L402.26 1340.59 L402.42 1339.10 L402.58 1337.61 L402.73 1336.11 L402.88 1334.62 L403.03 1333.13 L403.18 1331.63 L403.33 1330.14 L403.48 1328.64 L403.62 1327.15 L403.76 1325.65 L403.90 1324.16 L404.04 1322.66 L404.18 1321.17 L404.32 1319.67 L404.46 1318.18 L404.59 1316.68 L404.73 1315.18 L404.86 1313.69 L404.99 1312.19 L405.12 1310.70 L405.25 1309.20 L405.38 1307.70 L405.51 1306.21 L405.64 1304.71 L405.76 1303.21 L405.89 1301.72 L406.02 1300.22 L406.14 1298.72 L406.27 1297.23 L406.39 1295.73 L406.52 1294.23 L406.64 1292.74 L406.76 1291.24 L406.89 1289.74 L407.01 1288.24 L407.13 1286.75 L407.26 1285.25 L407.38 1283.75 L407.50 1282.25 L407.62 1280.76 L407.75 1279.26 L407.87 1277.76 L407.99 1276.26 L408.12 1274.76 L408.24 1273.27 L408.37 1271.77 L408.49 1270.27 L408.62 1268.77 L408.74 1267.27 L408.87 1265.78 L409.00 1264.28 L409.13 1262.78 L409.26 1261.28 L409.38 1259.78 L409.51 1258.28 L409.64 1256.79 L409.78 1255.29 L409.91 1253.79 L410.04 1252.29 L410.17 1250.79 L410.30 1249.29 L410.44 1247.80 L410.57 1246.30 L410.71 1244.80 L410.84 1243.30 L410.98 1241.80 L411.12 1240.30 L411.25 1238.81 L411.39 1237.31 L411.53 1235.81 L411.67 1234.31 L411.81 1232.81 L411.94 1231.31 L412.09 1229.82 L412.23 1228.32 L412.37 1226.82 L412.51 1225.32 L412.65 1223.82 L412.79 1222.33 L412.94 1220.83 L413.08 1219.33 L413.23 1217.83 L413.37 1216.34 L413.52 1214.84 L413.66 1213.34 L413.81 1211.84 L413.95 1210.34 L414.10 1208.85 L414.25 1207.35 L414.40 1205.85 L414.55 1204.36 L414.69 1202.86 L414.84 1201.36 L414.99 1199.86 L415.15 1198.37 L415.30 1196.87 L415.45 1195.37 L415.60 1193.88 L415.75 1192.38 L415.90 1190.88 L416.06 1189.39 L416.21 1187.89 L416.37 1186.40 L416.52 1184.90 L416.68 1183.40 L416.83 1181.91 L416.99 1180.41 L417.14 1178.92 L417.30 1177.42 L417.46 1175.93 L417.62 1174.43 L417.77 1172.94 L417.93 1171.44 L418.09 1169.95 L418.25 1168.45 L418.41 1166.96 L418.57 1165.46 L418.73 1163.97 L418.89 1162.48 L419.05 1160.98 L419.21 1159.49 L419.38 1157.99 L419.54 1156.50 L419.70 1155.01 L419.87 1153.52 L420.03 1152.02 L420.19 1150.53 L420.36 1149.04 L420.52 1147.55 L420.69 1146.05 L420.85 1144.56 L421.02 1143.07 L421.19 1141.58 L421.35 1140.09 L421.52 1138.60 L421.69 1137.10 L421.86 1135.61 L422.02 1134.12 L422.19 1132.63 L422.36 1131.14 L422.53 1129.65 L422.70 1128.16 L422.87 1126.67 L423.04 1125.19 L423.22 1123.70 L423.39 1122.21 L423.57 1120.72 L423.74 1119.23 L423.92 1117.74 L424.10 1116.25 L424.29 1114.77 L424.47 1113.28 L424.66 1111.79 L424.85 1110.31 L425.04 1108.82 L425.23 1107.33 L425.43 1105.85 L425.63 1104.36 L425.83 1102.87 L426.04 1101.39 L426.25 1099.90 L426.46 1098.42 L426.67 1096.93 L426.89 1095.45 L427.12 1093.96 L427.35 1092.48 L427.58 1091.00 L427.81 1089.51 L428.05 1088.03 L428.30 1086.55 L428.55 1085.06 L428.80 1083.58 L429.06 1082.10 L429.33 1080.62 L429.60 1079.13 L429.87 1077.65 L430.15 1076.17 L430.44 1074.69 L430.73 1073.21 L431.03 1071.73 L431.33 1070.25 L431.64 1068.77 L431.95 1067.29 L432.28 1065.81 L432.61 1064.33 L432.94 1062.85 L433.28 1061.37 L433.63 1059.89 L433.99 1058.42 L434.35 1056.94 L434.72 1055.46 L435.10 1053.98 L435.49 1052.51 L435.88 1051.03 L436.29 1049.55 L436.70 1048.08 L437.11 1046.60 L437.55 1045.13 L438.02 1043.68 L438.52 1042.26 L439.09 1040.87 L439.72 1039.53 L440.44 1038.25 L441.26 1037.03 L442.18 1035.89 L443.22 1034.85 L444.36 1033.95 L445.58 1033.26 L446.84 1032.83 L448.13 1032.73 L449.41 1032.94 L450.64 1033.44 L451.81 1034.17 L452.88 1035.11 L453.82 1036.21 L454.64 1037.44 L455.38 1038.78 L456.04 1040.20 L456.65 1041.67 L457.22 1043.16 L457.77 1044.65 L458.31 1046.13 L458.84 1047.60 L459.35 1049.06 L459.85 1050.52 L460.34 1051.98 L460.82 1053.43 L461.29 1054.87 L461.74 1056.31 L462.19 1057.75 L462.63 1059.19 L463.05 1060.62 L463.47 1062.05 L463.89 1063.48 L464.29 1064.91 L464.69 1066.34 L465.08 1067.77 L465.47 1069.20 L465.85 1070.63 L466.22 1072.06 L466.60 1073.50 L466.96 1074.94 L467.33 1076.38 L467.69 1077.82 L468.05 1079.27 L468.40 1080.72 L468.75 1082.17 L469.10 1083.63 L469.44 1085.08 L469.78 1086.54 L470.11 1088.00 L470.44 1089.47 L470.77 1090.93 L471.10 1092.40 L471.42 1093.87 L471.74 1095.34 L472.05 1096.81 L472.37 1098.28 L472.67 1099.76 L472.98 1101.23 L473.28 1102.71 L473.58 1104.19 L473.88 1105.67 L474.17 1107.15 L474.46 1108.63 L474.75 1110.11 L475.03 1111.59 L475.31 1113.07 L475.59 1114.55 L475.86 1116.04 L476.14 1117.52 L476.41 1119.00 L476.67 1120.49 L476.94 1121.97 L477.20 1123.46 L477.46 1124.94 L477.71 1126.43 L477.97 1127.91 L478.22 1129.40 L478.46 1130.88 L478.71 1132.37 L478.95 1133.85 L479.20 1135.34 L479.44 1136.82 L479.67 1138.31 L479.91 1139.80 L480.14 1141.28 L480.37 1142.77 L480.60 1144.26 L480.83 1145.74 L481.05 1147.23 L481.28 1148.72 L481.50 1150.21 L481.72 1151.69 L481.94 1153.18 L482.15 1154.67 L482.37 1156.16 L482.58 1157.65 L482.79 1159.14 L483.00 1160.62 L483.21 1162.11 L483.42 1163.60 L483.62 1165.09 L483.83 1166.58 L484.03 1168.07 L484.24 1169.56 L484.44 1171.05 L484.64 1172.54 L484.84 1174.02 L485.04 1175.51 L485.23 1177.00 L485.43 1178.49 L485.63 1179.98 L485.82 1181.47 L486.02 1182.96 L486.21 1184.45 L486.40 1185.94 L486.60 1187.43 L486.79 1188.92 L486.98 1190.41 L487.17 1191.90 L487.36 1193.39 L487.55 1194.88 L487.74 1196.37 L487.93 1197.86 L488.12 1199.35 L488.31 1200.84 L488.50 1202.33 L488.69 1203.82 L488.88 1205.31 L489.07 1206.80 L489.26 1208.29 L489.45 1209.78 L489.64 1211.27 L489.83 1212.76 L490.02 1214.25 L490.21 1215.74 L490.40 1217.23 L490.59 1218.72 L490.79 1220.21 L490.98 1221.70 L491.17 1223.19 L491.37 1224.68 L491.56 1226.17 L491.76 1227.66 L491.95 1229.15 L492.15 1230.64 L492.35 1232.13 L492.55 1233.62 L492.75 1235.11 L492.95 1236.60 L493.15 1238.09 L493.35 1239.57 L493.56 1241.06 L493.76 1242.55 L493.97 1244.04 L494.18 1245.53 L494.38 1247.02 L494.59 1248.50 L494.80 1249.99 L495.02 1251.48 L495.23 1252.97 L495.44 1254.45 L495.66 1255.94 L495.88 1257.43 L496.09 1258.92 L496.31 1260.40 L496.53 1261.89 L496.75 1263.38 L496.98 1264.86 L497.20 1266.35 L497.43 1267.83 L497.65 1269.32 L497.88 1270.81 L498.11 1272.29 L498.34 1273.78 L498.58 1275.26 L498.81 1276.74 L499.04 1278.23 L499.28 1279.71 L499.52 1281.20 L499.76 1282.68 L500.00 1284.16 L500.24 1285.65 L500.49 1287.13 L500.73 1288.61 L500.98 1290.10 L501.23 1291.58 L501.48 1293.06 L501.73 1294.54 L501.99 1296.02 L502.24 1297.50 L502.50 1298.98 L502.76 1300.46 L503.02 1301.94 L503.28 1303.42 L503.54 1304.90 L503.81 1306.38 L504.08 1307.86 L504.35 1309.34 L504.62 1310.82 L504.89 1312.30 L505.16 1313.77 L505.44 1315.25 L505.72 1316.73 L506.00 1318.20 L506.28 1319.68 L506.56 1321.15 L506.85 1322.63 L507.14 1324.11 L507.43 1325.58 L507.72 1327.05 L508.01 1328.53 L508.31 1330.00 L508.60 1331.47 L508.90 1332.95 L509.20 1334.42 L509.51 1335.89 L509.81 1337.36 L510.12 1338.83 L510.43 1340.30 L510.74 1341.77 L511.06 1343.24 L511.37 1344.71 L511.69 1346.18 L512.01 1347.65 L512.33 1349.12 L512.66 1350.58 L512.99 1352.05 L513.32 1353.52 L513.65 1354.98 L513.98 1356.45 L514.32 1357.91 L514.66 1359.38 L515.00 1360.84 L515.34 1362.31 L515.69 1363.77 L516.03 1365.23 L516.38 1366.69 L516.74 1368.16 L517.09 1369.62 L517.45 1371.08 L517.81 1372.54 L518.17 1374.00 L518.53 1375.46 L518.90 1376.91 L519.27 1378.37 L519.64 1379.83 L520.02 1381.29 L520.39 1382.74 L520.77 1384.20 L521.15 1385.66 L521.53 1387.11 L521.91 1388.57 L522.30 1390.02 L522.68 1391.47 L523.07 1392.93 L523.45 1394.38 L523.84 1395.84 L524.23 1397.29 L524.61 1398.74 L525.00 1400.20 L525.39 1401.65 L525.77 1403.11 L526.16 1404.56 L526.55 1406.01 L526.93 1407.47 L527.32 1408.92 L527.70 1410.37 L528.09 1411.83 L528.47 1413.28 L528.85 1414.74 L529.23 1416.19 L529.61 1417.65 L529.98 1419.10 L530.35 1420.56 L530.73 1422.01 L531.09 1423.47 L531.46 1424.93 L531.83 1426.38 L532.19 1427.84 L532.55 1429.30 L532.90 1430.76 L533.25 1432.22 L533.60 1433.68 L533.95 1435.14 L534.29 1436.60 L534.63 1438.06 L534.96 1439.53 L535.29 1440.99 L535.62 1442.46 L535.94 1443.92 L536.26 1445.39 L536.58 1446.85 L536.89 1448.32 L537.20 1449.79 L537.51 1451.26 L537.81 1452.73 L538.12 1454.20 L538.42 1455.66 L538.73 1457.13 L539.03 1458.60 L539.33 1460.07 L539.64 1461.54 L539.94 1463.01 L540.25 1464.48 L540.56 1465.95 L540.86 1467.42 L541.18 1468.89 L541.49 1470.36 L541.81 1471.83 L542.13 1473.30 L542.45 1474.77 L542.78 1476.24 L543.11 1477.71 L543.45 1479.17 L543.79 1480.64 L544.13 1482.10 L544.49 1483.57 L544.84 1485.03 L545.21 1486.50 L545.57 1487.96 L545.95 1489.42 L546.33 1490.87 L546.71 1492.33 L547.11 1493.79 L547.50 1495.24 L547.91 1496.69 L548.32 1498.14 L548.74 1499.59 L549.17 1501.03 L549.60 1502.47 L550.04 1503.91 L550.49 1505.35 L550.95 1506.78 L551.41 1508.21 L551.89 1509.64 L552.37 1511.06 L552.86 1512.49 L553.36 1513.90 L553.86 1515.32 L554.38 1516.73 L554.90 1518.14 L555.44 1519.54 L555.98 1520.94 L556.54 1522.33 L557.10 1523.72 L557.67 1525.11 L558.26 1526.49 L558.85 1527.87 L559.45 1529.24 L560.07 1530.61 L560.69 1531.97 L561.33 1533.32 L561.98 1534.68 L562.64 1536.02 L563.31 1537.36 L563.99 1538.70 L564.68 1540.03 L565.39 1541.35 L566.10 1542.67 L566.83 1543.98 L567.58 1545.29 L568.33 1546.59 L569.10 1547.88 L569.88 1549.17 L570.67 1550.45 L571.47 1551.72 L572.29 1552.98 L573.11 1554.24 L573.95 1555.49 L574.80 1556.73 L575.67 1557.96 L576.54 1559.18 L577.43 1560.40 L578.33 1561.60 L579.24 1562.80 L580.17 1563.98 L581.10 1565.16 L582.05 1566.33 L583.01 1567.49 L583.98 1568.64 L584.96 1569.77 L585.96 1570.90 L586.97 1572.01 L587.98 1573.12 L589.01 1574.21 L590.05 1575.29 L591.11 1576.36 L592.17 1577.42 L593.25 1578.47 L594.34 1579.50 L595.43 1580.52 L596.55 1581.53 L597.67 1582.53 L598.80 1583.51 L599.94 1584.48 L601.10 1585.43 L602.27 1586.37 L603.45 1587.30 L604.64 1588.21 L605.84 1589.11 L607.05 1590.00 L608.27 1590.87 L609.51 1591.72 L610.75 1592.56 L612.00 1593.39 L613.26 1594.20 L614.54 1595.00 L615.82 1595.78 L617.11 1596.55 L618.41 1597.30 L619.72 1598.04 L621.04 1598.76 L622.36 1599.47 L623.70 1600.16 L625.04 1600.84 L626.39 1601.50 L627.75 1602.15 L629.11 1602.78 L630.48 1603.39 L631.86 1603.99 L633.24 1604.58 L634.63 1605.15 L636.03 1605.70 L637.44 1606.24 L638.84 1606.76 L640.26 1607.27 L641.68 1607.76 L643.10 1608.24 L644.53 1608.69 L645.97 1609.14 L647.41 1609.56 L648.85 1609.97 L650.30 1610.37 L651.75 1610.75 L653.21 1611.11 L654.67 1611.45 L656.13 1611.78 L657.59 1612.10 L659.06 1612.39 L660.53 1612.67 L662.00 1612.93 L663.48 1613.18 L664.96 1613.41 L666.44 1613.63 L667.92 1613.83 L669.40 1614.02 L670.89 1614.19 L672.38 1614.35 L673.86 1614.50 L675.36 1614.64 L676.85 1614.76 L678.34 1614.87 L679.84 1614.97 L681.34 1615.06 L682.84 1615.14 L684.34 1615.21 L685.84 1615.27 L687.35 1615.32 L688.85 1615.36 L690.36 1615.40 L691.86 1615.42 L693.37 1615.44 L694.88 1615.45 L696.39 1615.46 L697.90 1615.46 L699.41 1615.45 L700.92 1615.44 L702.43 1615.43 L703.94 1615.41 L705.46 1615.38 L706.97 1615.35 L708.48 1615.32 L710.00 1615.29 L711.51 1615.25 L713.02 1615.22 L714.54 1615.18 L716.05 1615.14 L717.56 1615.10 L719.07 1615.06 L720.59 1615.02 L722.10 1614.98 L723.61 1614.94 L725.12 1614.91 L726.63 1614.88 L728.14 1614.84 L729.65 1614.82 L731.15 1614.79 L732.66 1614.77 L734.17 1614.75 L735.67 1614.74 L737.17 1614.74 L738.68 1614.74 L740.18 1614.74 L741.68 1614.75 L743.17 1614.77 L744.67 1614.80 L746.17 1614.83 L747.66 1614.87 L749.15 1614.92 L750.64 1614.98 L752.13 1615.05 L753.61 1615.13 L755.10 1615.22" fill="none" stroke="#0070C0" stroke-width="5.7" stroke-linejoin="round" stroke-linecap="butt"/>
<text transform="translate(913.6 1011.65) scale(1.0585 1)" font-family='"Liberation Serif", "Times New Roman", serif' font-weight="bold" font-size="79.63" fill="#7E2CA4">(d)</text>
<line x1="1162.2" y1="1036.5" x2="1162.2" y2="1623" stroke="#868686" stroke-width="1.8" stroke-linecap="butt"/>
<line x1="1146.7" y1="1609.4" x2="1162.2" y2="1609.4" stroke="#868686" stroke-width="1.8" stroke-linecap="butt"/>
<line x1="1146.7" y1="1537.79" x2="1162.2" y2="1537.79" stroke="#868686" stroke-width="1.8" stroke-linecap="butt"/>
<line x1="1146.7" y1="1466.18" x2="1162.2" y2="1466.18" stroke="#868686" stroke-width="1.8" stroke-linecap="butt"/>
<line x1="1146.7" y1="1394.57" x2="1162.2" y2="1394.57" stroke="#868686" stroke-width="1.8" stroke-linecap="butt"/>
<line x1="1146.7" y1="1322.96" x2="1162.2" y2="1322.96" stroke="#868686" stroke-width="1.8" stroke-linecap="butt"/>
<line x1="1146.7" y1="1251.35" x2="1162.2" y2="1251.35" stroke="#868686" stroke-width="1.8" stroke-linecap="butt"/>
<line x1="1146.7" y1="1179.74" x2="1162.2" y2="1179.74" stroke="#868686" stroke-width="1.8" stroke-linecap="butt"/>
<line x1="1146.7" y1="1108.13" x2="1162.2" y2="1108.13" stroke="#868686" stroke-width="1.8" stroke-linecap="butt"/>
<line x1="1146.7" y1="1036.52" x2="1162.2" y2="1036.52" stroke="#868686" stroke-width="1.8" stroke-linecap="butt"/>
<line x1="1147.2" y1="1609.5" x2="1589.7" y2="1609.5" stroke="#868686" stroke-width="1.8" stroke-linecap="butt"/>
<line x1="1162.3" y1="1609.5" x2="1162.3" y2="1622.7" stroke="#868686" stroke-width="1.8" stroke-linecap="butt"/>
<line x1="1304.77" y1="1609.5" x2="1304.77" y2="1622.7" stroke="#868686" stroke-width="1.8" stroke-linecap="butt"/>
<line x1="1447.24" y1="1609.5" x2="1447.24" y2="1622.7" stroke="#868686" stroke-width="1.8" stroke-linecap="butt"/>
<line x1="1589.71" y1="1609.5" x2="1589.71" y2="1622.7" stroke="#868686" stroke-width="1.8" stroke-linecap="butt"/>
<text transform="translate(1091 1622.24) scale(1.3156 1)" font-family='"Liberation Sans", Arial, sans-serif' font-weight="bold" font-size="36.44" fill="#000">0</text>
<text transform="translate(1039.86 1550.63) scale(1.2787 1)" font-family='"Liberation Sans", Arial, sans-serif' font-weight="bold" font-size="36.44" fill="#000">100</text>
<text transform="translate(1041.21 1479.02) scale(1.2560 1)" font-family='"Liberation Sans", Arial, sans-serif' font-weight="bold" font-size="36.44" fill="#000">200</text>
<text transform="translate(1041.76 1407.36) scale(1.2494 1)" font-family='"Liberation Sans", Arial, sans-serif' font-weight="bold" font-size="36.37" fill="#000">300</text>
<text transform="translate(1042.12 1335.8) scale(1.2408 1)" font-family='"Liberation Sans", Arial, sans-serif' font-weight="bold" font-size="36.44" fill="#000">400</text>
<text transform="translate(1041.4 1264.19) scale(1.2529 1)" font-family='"Liberation Sans", Arial, sans-serif' font-weight="bold" font-size="36.44" fill="#000">500</text>
<text transform="translate(1041.12 1192.58) scale(1.2575 1)" font-family='"Liberation Sans", Arial, sans-serif' font-weight="bold" font-size="36.44" fill="#000">600</text>
<text transform="translate(1040.82 1120.97) scale(1.2626 1)" font-family='"Liberation Sans", Arial, sans-serif' font-weight="bold" font-size="36.44" fill="#000">700</text>
<text transform="translate(1041.35 1049.36) scale(1.2537 1)" font-family='"Liberation Sans", Arial, sans-serif' font-weight="bold" font-size="36.44" fill="#000">800</text>
<text transform="translate(1124.44 1675.61) scale(1.3283 1)" font-family='"Liberation Sans", Arial, sans-serif' font-weight="bold" font-size="34.81" fill="#000">350</text>
<text transform="translate(1267.27 1675.66) scale(1.3192 1)" font-family='"Liberation Sans", Arial, sans-serif' font-weight="bold" font-size="34.89" fill="#000">450</text>
<text transform="translate(1409.01 1675.66) scale(1.3321 1)" font-family='"Liberation Sans", Arial, sans-serif' font-weight="bold" font-size="34.89" fill="#000">550</text>
<text transform="translate(1551.2 1675.66) scale(1.3370 1)" font-family='"Liberation Sans", Arial, sans-serif' font-weight="bold" font-size="34.89" fill="#000">650</text>
<text transform="translate(1201.66 1720.2) scale(1.1727 1)" font-family='"Liberation Sans", Arial, sans-serif' font-weight="bold" font-size="37.21" fill="#000">Wavelength (nm)</text>
<text transform="translate(1019 1562.38) rotate(-90) scale(0.7201 1)" font-family='"Liberation Sans", Arial, sans-serif' font-weight="bold" font-size="49.42" fill="#000">Fluorescence intensity (a.u.)</text>
<text transform="translate(1241.55 1020.65) scale(1.0281 1)" font-family='"Liberation Serif", "Times New Roman", serif' font-weight="bold" font-size="45.94" fill="#000">430</text>
<text transform="translate(1433.07 1284.35) scale(1.0020 1)" font-family='"Liberation Serif", "Times New Roman", serif' font-weight="bold" font-size="45.84" fill="#000">432</text>
<polygon points="1350.4,1270.6 1378.6,1256.2 1378.6,1284.9" fill="#FF7F27"/>
<rect x="1378.1" y="1268.2" width="40.7" height="5.5" fill="#FF7F27"/>
<line x1="1389.55" y1="1023.4" x2="1449.75" y2="1023.4" stroke="#FF0000" stroke-width="4.5" stroke-linecap="round"/>
<line x1="1389.55" y1="1073.3" x2="1449.75" y2="1073.3" stroke="#0070C0" stroke-width="4.5" stroke-linecap="round"/>
<text transform="translate(1456.62 1036.3) scale(1.1788 1)" font-family='"Liberation Sans", Arial, sans-serif' font-weight="bold" font-size="36.57" fill="#000">complex</text>
<text transform="translate(1457.05 1084.7) scale(1.1708 1)" font-family='"Liberation Sans", Arial, sans-serif' font-weight="bold" font-size="36.57" fill="#000">acid</text>
<path d="M1162.12 1608.61 L1163.37 1608.44 L1164.71 1608.33 L1166.12 1608.27 L1167.59 1608.26 L1169.12 1608.28 L1170.70 1608.32 L1172.31 1608.38 L1173.94 1608.43 L1175.59 1608.47 L1177.25 1608.49 L1178.90 1608.48 L1180.54 1608.42 L1182.15 1608.32 L1183.73 1608.14 L1185.27 1607.89 L1186.75 1607.56 L1188.19 1607.16 L1189.59 1606.67 L1190.93 1606.12 L1192.24 1605.50 L1193.50 1604.82 L1194.72 1604.07 L1195.90 1603.26 L1197.05 1602.40 L1198.15 1601.49 L1199.22 1600.53 L1200.26 1599.52 L1201.26 1598.47 L1202.23 1597.37 L1203.17 1596.25 L1204.08 1595.08 L1204.96 1593.89 L1205.82 1592.67 L1206.65 1591.43 L1207.45 1590.16 L1208.23 1588.88 L1208.99 1587.58 L1209.73 1586.27 L1210.46 1584.95 L1211.16 1583.62 L1211.85 1582.29 L1212.51 1580.95 L1213.16 1579.60 L1213.80 1578.25 L1214.41 1576.89 L1215.02 1575.53 L1215.60 1574.15 L1216.17 1572.78 L1216.72 1571.39 L1217.26 1570.00 L1217.79 1568.61 L1218.30 1567.21 L1218.79 1565.80 L1219.28 1564.39 L1219.75 1562.98 L1220.20 1561.56 L1220.64 1560.13 L1221.08 1558.70 L1221.49 1557.27 L1221.90 1555.83 L1222.30 1554.39 L1222.68 1552.94 L1223.06 1551.49 L1223.42 1550.04 L1223.77 1548.58 L1224.12 1547.12 L1224.45 1545.65 L1224.77 1544.19 L1225.09 1542.72 L1225.40 1541.24 L1225.70 1539.77 L1225.99 1538.29 L1226.27 1536.81 L1226.55 1535.32 L1226.82 1533.84 L1227.08 1532.35 L1227.34 1530.86 L1227.59 1529.36 L1227.83 1527.87 L1228.07 1526.38 L1228.31 1524.88 L1228.54 1523.38 L1228.76 1521.88 L1228.98 1520.38 L1229.20 1518.88 L1229.42 1517.38 L1229.63 1515.88 L1229.84 1514.37 L1230.04 1512.87 L1230.25 1511.37 L1230.45 1509.87 L1230.65 1508.36 L1230.85 1506.86 L1231.05 1505.36 L1231.25 1503.86 L1231.45 1502.36 L1231.65 1500.85 L1231.84 1499.35 L1232.04 1497.85 L1232.24 1496.36 L1232.43 1494.86 L1232.63 1493.36 L1232.83 1491.86 L1233.02 1490.36 L1233.22 1488.87 L1233.41 1487.37 L1233.60 1485.88 L1233.80 1484.38 L1233.99 1482.88 L1234.18 1481.39 L1234.38 1479.90 L1234.57 1478.40 L1234.76 1476.91 L1234.95 1475.42 L1235.14 1473.92 L1235.33 1472.43 L1235.52 1470.94 L1235.71 1469.45 L1235.90 1467.96 L1236.09 1466.46 L1236.28 1464.97 L1236.47 1463.48 L1236.66 1461.99 L1236.85 1460.50 L1237.03 1459.01 L1237.22 1457.52 L1237.41 1456.04 L1237.60 1454.55 L1237.78 1453.06 L1237.97 1451.57 L1238.15 1450.08 L1238.34 1448.59 L1238.52 1447.11 L1238.71 1445.62 L1238.89 1444.13 L1239.08 1442.64 L1239.26 1441.16 L1239.45 1439.67 L1239.63 1438.18 L1239.81 1436.70 L1240.00 1435.21 L1240.18 1433.72 L1240.36 1432.24 L1240.54 1430.75 L1240.73 1429.26 L1240.91 1427.78 L1241.09 1426.29 L1241.27 1424.81 L1241.45 1423.32 L1241.63 1421.83 L1241.81 1420.35 L1241.99 1418.86 L1242.18 1417.38 L1242.36 1415.89 L1242.53 1414.40 L1242.71 1412.92 L1242.89 1411.43 L1243.07 1409.95 L1243.25 1408.46 L1243.43 1406.97 L1243.61 1405.49 L1243.79 1404.00 L1243.97 1402.51 L1244.14 1401.03 L1244.32 1399.54 L1244.50 1398.05 L1244.68 1396.57 L1244.86 1395.08 L1245.03 1393.59 L1245.21 1392.10 L1245.39 1390.62 L1245.56 1389.13 L1245.74 1387.64 L1245.92 1386.15 L1246.10 1384.67 L1246.27 1383.18 L1246.45 1381.69 L1246.63 1380.20 L1246.81 1378.71 L1246.99 1377.22 L1247.17 1375.73 L1247.35 1374.24 L1247.53 1372.75 L1247.71 1371.27 L1247.89 1369.78 L1248.07 1368.29 L1248.25 1366.80 L1248.44 1365.31 L1248.62 1363.82 L1248.81 1362.33 L1248.99 1360.84 L1249.18 1359.35 L1249.37 1357.86 L1249.56 1356.36 L1249.74 1354.87 L1249.94 1353.38 L1250.13 1351.89 L1250.32 1350.40 L1250.51 1348.91 L1250.71 1347.42 L1250.91 1345.93 L1251.11 1344.43 L1251.31 1342.94 L1251.51 1341.45 L1251.71 1339.96 L1251.91 1338.47 L1252.12 1336.98 L1252.33 1335.48 L1252.53 1333.99 L1252.74 1332.50 L1252.96 1331.01 L1253.17 1329.51 L1253.39 1328.02 L1253.61 1326.53 L1253.82 1325.03 L1254.05 1323.54 L1254.27 1322.05 L1254.50 1320.55 L1254.72 1319.06 L1254.95 1317.57 L1255.19 1316.07 L1255.42 1314.58 L1255.66 1313.09 L1255.90 1311.59 L1256.14 1310.10 L1256.38 1308.60 L1256.63 1307.11 L1256.88 1305.62 L1257.13 1304.12 L1257.38 1302.63 L1257.64 1301.13 L1257.91 1299.64 L1258.18 1298.15 L1258.46 1296.66 L1258.75 1295.18 L1259.05 1293.70 L1259.36 1292.22 L1259.69 1290.74 L1260.03 1289.28 L1260.38 1287.81 L1260.76 1286.35 L1261.14 1284.90 L1261.55 1283.46 L1261.98 1282.02 L1262.43 1280.59 L1262.90 1279.17 L1263.40 1277.75 L1263.92 1276.35 L1264.47 1274.96 L1265.04 1273.57 L1265.64 1272.20 L1266.28 1270.84 L1266.94 1269.49 L1267.63 1268.15 L1268.36 1266.82 L1269.13 1265.51 L1269.92 1264.21 L1270.76 1262.93 L1271.63 1261.66 L1272.55 1260.41 L1273.50 1259.18 L1274.49 1258.02 L1275.51 1256.98 L1276.57 1256.11 L1277.65 1255.44 L1278.76 1255.03 L1279.89 1254.93 L1281.04 1255.16 L1282.19 1255.67 L1283.35 1256.43 L1284.49 1257.38 L1285.62 1258.47 L1286.71 1259.66 L1287.76 1260.90 L1288.77 1262.15 L1289.73 1263.42 L1290.64 1264.70 L1291.51 1265.99 L1292.35 1267.29 L1293.14 1268.61 L1293.90 1269.94 L1294.62 1271.27 L1295.31 1272.62 L1295.96 1273.98 L1296.59 1275.35 L1297.19 1276.72 L1297.76 1278.11 L1298.30 1279.50 L1298.82 1280.90 L1299.32 1282.31 L1299.80 1283.72 L1300.26 1285.14 L1300.71 1286.57 L1301.14 1288.00 L1301.55 1289.43 L1301.95 1290.87 L1302.35 1292.31 L1302.73 1293.75 L1303.11 1295.20 L1303.48 1296.65 L1303.85 1298.10 L1304.22 1299.55 L1304.59 1301.00 L1304.95 1302.46 L1305.32 1303.91 L1305.69 1305.36 L1306.05 1306.82 L1306.42 1308.27 L1306.79 1309.73 L1307.16 1311.19 L1307.52 1312.64 L1307.89 1314.10 L1308.26 1315.56 L1308.62 1317.01 L1308.99 1318.47 L1309.36 1319.93 L1309.72 1321.39 L1310.09 1322.85 L1310.46 1324.31 L1310.82 1325.77 L1311.19 1327.23 L1311.55 1328.69 L1311.92 1330.15 L1312.28 1331.62 L1312.65 1333.08 L1313.01 1334.54 L1313.38 1336.00 L1313.74 1337.47 L1314.10 1338.93 L1314.46 1340.39 L1314.83 1341.86 L1315.19 1343.32 L1315.55 1344.79 L1315.91 1346.25 L1316.27 1347.72 L1316.63 1349.18 L1316.99 1350.65 L1317.35 1352.11 L1317.70 1353.58 L1318.06 1355.05 L1318.42 1356.51 L1318.77 1357.98 L1319.13 1359.45 L1319.48 1360.91 L1319.83 1362.38 L1320.19 1363.85 L1320.54 1365.31 L1320.89 1366.78 L1321.24 1368.25 L1321.59 1369.72 L1321.94 1371.19 L1322.29 1372.65 L1322.63 1374.12 L1322.98 1375.59 L1323.32 1377.06 L1323.67 1378.53 L1324.01 1379.99 L1324.35 1381.46 L1324.69 1382.93 L1325.03 1384.40 L1325.37 1385.87 L1325.71 1387.33 L1326.05 1388.80 L1326.38 1390.27 L1326.72 1391.74 L1327.05 1393.21 L1327.38 1394.67 L1327.71 1396.14 L1328.04 1397.61 L1328.37 1399.08 L1328.70 1400.55 L1329.02 1402.01 L1329.35 1403.48 L1329.67 1404.95 L1329.99 1406.41 L1330.31 1407.88 L1330.63 1409.35 L1330.95 1410.82 L1331.27 1412.28 L1331.58 1413.75 L1331.89 1415.21 L1332.21 1416.68 L1332.52 1418.15 L1332.83 1419.61 L1333.13 1421.08 L1333.44 1422.54 L1333.75 1424.01 L1334.05 1425.47 L1334.36 1426.93 L1334.66 1428.40 L1334.97 1429.86 L1335.27 1431.32 L1335.58 1432.79 L1335.88 1434.25 L1336.19 1435.71 L1336.49 1437.17 L1336.80 1438.63 L1337.11 1440.09 L1337.42 1441.55 L1337.73 1443.01 L1338.04 1444.47 L1338.35 1445.93 L1338.67 1447.39 L1338.98 1448.85 L1339.30 1450.30 L1339.62 1451.76 L1339.95 1453.21 L1340.27 1454.67 L1340.60 1456.12 L1340.93 1457.58 L1341.27 1459.03 L1341.61 1460.48 L1341.95 1461.93 L1342.29 1463.38 L1342.64 1464.83 L1342.99 1466.28 L1343.35 1467.73 L1343.71 1469.18 L1344.08 1470.63 L1344.44 1472.07 L1344.82 1473.52 L1345.20 1474.96 L1345.58 1476.40 L1345.97 1477.85 L1346.36 1479.29 L1346.76 1480.73 L1347.17 1482.17 L1347.58 1483.61 L1348.00 1485.05 L1348.42 1486.48 L1348.85 1487.92 L1349.28 1489.35 L1349.73 1490.79 L1350.18 1492.22 L1350.63 1493.65 L1351.09 1495.08 L1351.57 1496.51 L1352.04 1497.94 L1352.53 1499.37 L1353.02 1500.79 L1353.52 1502.22 L1354.03 1503.64 L1354.55 1505.06 L1355.07 1506.48 L1355.60 1507.90 L1356.15 1509.32 L1356.70 1510.74 L1357.26 1512.16 L1357.83 1513.57 L1358.40 1514.98 L1358.99 1516.39 L1359.58 1517.79 L1360.19 1519.19 L1360.80 1520.59 L1361.42 1521.99 L1362.06 1523.38 L1362.70 1524.77 L1363.35 1526.15 L1364.01 1527.53 L1364.68 1528.90 L1365.36 1530.27 L1366.05 1531.63 L1366.74 1532.99 L1367.45 1534.34 L1368.17 1535.69 L1368.90 1537.02 L1369.64 1538.36 L1370.39 1539.68 L1371.14 1541.00 L1371.91 1542.31 L1372.69 1543.62 L1373.48 1544.91 L1374.28 1546.20 L1375.09 1547.48 L1375.91 1548.75 L1376.74 1550.01 L1377.58 1551.27 L1378.44 1552.51 L1379.30 1553.75 L1380.18 1554.97 L1381.06 1556.19 L1381.96 1557.39 L1382.86 1558.58 L1383.78 1559.77 L1384.71 1560.94 L1385.65 1562.10 L1386.61 1563.25 L1387.57 1564.39 L1388.54 1565.51 L1389.53 1566.63 L1390.53 1567.73 L1391.54 1568.82 L1392.56 1569.89 L1393.59 1570.95 L1394.64 1572.00 L1395.70 1573.04 L1396.77 1574.06 L1397.85 1575.06 L1398.94 1576.06 L1400.05 1577.03 L1401.16 1578.00 L1402.29 1578.94 L1403.44 1579.87 L1404.59 1580.79 L1405.76 1581.69 L1406.94 1582.58 L1408.13 1583.44 L1409.34 1584.29 L1410.56 1585.13 L1411.79 1585.94 L1413.03 1586.74 L1414.29 1587.53 L1415.56 1588.29 L1416.84 1589.04 L1418.13 1589.77 L1419.44 1590.49 L1420.75 1591.18 L1422.08 1591.87 L1423.41 1592.53 L1424.76 1593.18 L1426.11 1593.81 L1427.48 1594.43 L1428.85 1595.03 L1430.23 1595.62 L1431.62 1596.19 L1433.02 1596.75 L1434.42 1597.29 L1435.84 1597.82 L1437.25 1598.33 L1438.68 1598.82 L1440.11 1599.30 L1441.55 1599.77 L1442.99 1600.23 L1444.44 1600.67 L1445.90 1601.09 L1447.36 1601.50 L1448.82 1601.90 L1450.29 1602.28 L1451.76 1602.66 L1453.23 1603.01 L1454.71 1603.36 L1456.18 1603.69 L1457.67 1604.01 L1459.15 1604.32 L1460.63 1604.61 L1462.12 1604.89 L1463.61 1605.16 L1465.09 1605.42 L1466.58 1605.66 L1468.07 1605.90 L1469.56 1606.12 L1471.05 1606.33 L1472.54 1606.53 L1474.04 1606.72 L1475.53 1606.90 L1477.02 1607.07 L1478.52 1607.23 L1480.01 1607.39 L1481.51 1607.53 L1483.00 1607.66 L1484.50 1607.78 L1486.00 1607.90 L1487.49 1608.00 L1488.99 1608.10 L1490.49 1608.19 L1491.99 1608.28 L1493.49 1608.35 L1494.99 1608.42 L1496.49 1608.48 L1497.99 1608.54 L1499.49 1608.59 L1501.00 1608.63 L1502.50 1608.67 L1504.00 1608.70 L1505.50 1608.72 L1507.01 1608.74 L1508.51 1608.76 L1510.02 1608.77 L1511.52 1608.77 L1513.02 1608.78 L1514.53 1608.77 L1516.03 1608.77 L1517.54 1608.76 L1519.04 1608.75 L1520.55 1608.73 L1522.06 1608.71 L1523.56 1608.69 L1525.07 1608.67 L1526.57 1608.65 L1528.08 1608.62 L1529.59 1608.59 L1531.09 1608.56 L1532.60 1608.53 L1534.10 1608.50 L1535.61 1608.47 L1537.12 1608.44 L1538.62 1608.40 L1540.13 1608.37 L1541.64 1608.34 L1543.14 1608.31 L1544.65 1608.28 L1546.15 1608.25 L1547.66 1608.22 L1549.17 1608.20 L1550.67 1608.17 L1552.18 1608.15 L1553.68 1608.13 L1555.19 1608.12 L1556.69 1608.10 L1558.20 1608.09 L1559.70 1608.09 L1561.20 1608.08 L1562.71 1608.08 L1564.21 1608.09 L1565.71 1608.09 L1567.22 1608.11 L1568.72 1608.13 L1570.22 1608.15 L1571.72 1608.18 L1573.22 1608.21 L1574.72 1608.25 L1576.22 1608.30 L1577.72 1608.35 L1579.22 1608.41 L1580.72 1608.47 L1582.22 1608.54 L1583.71 1608.62 L1585.21 1608.71 L1586.71 1608.80 L1588.20 1608.91 L1589.70 1609.02" fill="none" stroke="#FF0000" stroke-width="5.3" stroke-linejoin="round" stroke-linecap="butt"/>
<path d="M1162.11 1607.60 L1163.50 1607.55 L1164.92 1607.51 L1166.39 1607.47 L1167.88 1607.43 L1169.40 1607.39 L1170.94 1607.34 L1172.49 1607.27 L1174.05 1607.17 L1175.62 1607.05 L1177.18 1606.90 L1178.73 1606.71 L1180.27 1606.47 L1181.78 1606.18 L1183.27 1605.84 L1184.73 1605.43 L1186.16 1604.96 L1187.54 1604.42 L1188.87 1603.79 L1190.15 1603.09 L1191.38 1602.31 L1192.56 1601.46 L1193.69 1600.55 L1194.78 1599.57 L1195.82 1598.54 L1196.82 1597.45 L1197.78 1596.32 L1198.70 1595.14 L1199.58 1593.92 L1200.42 1592.67 L1201.23 1591.39 L1202.00 1590.09 L1202.75 1588.77 L1203.46 1587.43 L1204.14 1586.08 L1204.80 1584.73 L1205.43 1583.36 L1206.03 1581.99 L1206.61 1580.60 L1207.16 1579.21 L1207.69 1577.81 L1208.20 1576.41 L1208.69 1575.00 L1209.15 1573.58 L1209.60 1572.15 L1210.02 1570.72 L1210.43 1569.29 L1210.83 1567.84 L1211.20 1566.40 L1211.56 1564.95 L1211.91 1563.49 L1212.24 1562.03 L1212.57 1560.56 L1212.88 1559.10 L1213.17 1557.63 L1213.46 1556.15 L1213.75 1554.68 L1214.02 1553.20 L1214.28 1551.72 L1214.55 1550.24 L1214.80 1548.75 L1215.05 1547.27 L1215.30 1545.78 L1215.55 1544.30 L1215.79 1542.81 L1216.03 1541.32 L1216.27 1539.84 L1216.51 1538.35 L1216.75 1536.87 L1216.99 1535.38 L1217.22 1533.89 L1217.45 1532.41 L1217.68 1530.92 L1217.91 1529.43 L1218.14 1527.94 L1218.37 1526.46 L1218.59 1524.97 L1218.82 1523.48 L1219.04 1521.99 L1219.26 1520.50 L1219.48 1519.02 L1219.70 1517.53 L1219.91 1516.04 L1220.13 1514.55 L1220.34 1513.06 L1220.55 1511.57 L1220.76 1510.08 L1220.97 1508.59 L1221.18 1507.10 L1221.39 1505.61 L1221.59 1504.13 L1221.79 1502.64 L1222.00 1501.14 L1222.20 1499.65 L1222.40 1498.16 L1222.60 1496.67 L1222.79 1495.18 L1222.99 1493.69 L1223.18 1492.20 L1223.38 1490.71 L1223.57 1489.22 L1223.76 1487.73 L1223.95 1486.24 L1224.13 1484.75 L1224.32 1483.25 L1224.51 1481.76 L1224.69 1480.27 L1224.88 1478.78 L1225.06 1477.29 L1225.24 1475.79 L1225.42 1474.30 L1225.60 1472.81 L1225.77 1471.32 L1225.95 1469.82 L1226.13 1468.33 L1226.30 1466.84 L1226.47 1465.34 L1226.64 1463.85 L1226.82 1462.36 L1226.99 1460.86 L1227.15 1459.37 L1227.32 1457.88 L1227.49 1456.38 L1227.65 1454.89 L1227.82 1453.40 L1227.98 1451.90 L1228.15 1450.41 L1228.31 1448.91 L1228.47 1447.42 L1228.63 1445.92 L1228.79 1444.43 L1228.95 1442.94 L1229.10 1441.44 L1229.26 1439.95 L1229.41 1438.45 L1229.57 1436.96 L1229.72 1435.46 L1229.88 1433.97 L1230.03 1432.47 L1230.18 1430.98 L1230.33 1429.48 L1230.48 1427.98 L1230.63 1426.49 L1230.77 1424.99 L1230.92 1423.50 L1231.07 1422.00 L1231.21 1420.51 L1231.36 1419.01 L1231.50 1417.51 L1231.64 1416.02 L1231.79 1414.52 L1231.93 1413.03 L1232.07 1411.53 L1232.21 1410.03 L1232.35 1408.54 L1232.49 1407.04 L1232.63 1405.54 L1232.77 1404.05 L1232.90 1402.55 L1233.04 1401.06 L1233.17 1399.56 L1233.31 1398.06 L1233.44 1396.56 L1233.58 1395.07 L1233.71 1393.57 L1233.85 1392.07 L1233.98 1390.58 L1234.11 1389.08 L1234.24 1387.58 L1234.37 1386.09 L1234.50 1384.59 L1234.63 1383.09 L1234.76 1381.59 L1234.89 1380.10 L1235.02 1378.60 L1235.15 1377.10 L1235.27 1375.60 L1235.40 1374.11 L1235.53 1372.61 L1235.65 1371.11 L1235.78 1369.61 L1235.91 1368.12 L1236.03 1366.62 L1236.16 1365.12 L1236.28 1363.62 L1236.40 1362.13 L1236.53 1360.63 L1236.65 1359.13 L1236.77 1357.63 L1236.90 1356.14 L1237.02 1354.64 L1237.14 1353.14 L1237.26 1351.64 L1237.39 1350.14 L1237.51 1348.65 L1237.63 1347.15 L1237.75 1345.65 L1237.87 1344.15 L1237.99 1342.65 L1238.11 1341.16 L1238.23 1339.66 L1238.35 1338.16 L1238.47 1336.66 L1238.59 1335.16 L1238.71 1333.67 L1238.83 1332.17 L1238.95 1330.67 L1239.07 1329.17 L1239.19 1327.67 L1239.31 1326.18 L1239.43 1324.68 L1239.55 1323.18 L1239.67 1321.68 L1239.79 1320.19 L1239.90 1318.69 L1240.02 1317.19 L1240.14 1315.69 L1240.26 1314.19 L1240.38 1312.70 L1240.50 1311.20 L1240.62 1309.70 L1240.74 1308.20 L1240.86 1306.70 L1240.98 1305.21 L1241.09 1303.71 L1241.21 1302.21 L1241.33 1300.71 L1241.45 1299.22 L1241.57 1297.72 L1241.69 1296.22 L1241.81 1294.72 L1241.93 1293.23 L1242.05 1291.73 L1242.17 1290.23 L1242.29 1288.73 L1242.41 1287.24 L1242.54 1285.74 L1242.66 1284.24 L1242.78 1282.74 L1242.90 1281.25 L1243.02 1279.75 L1243.14 1278.25 L1243.27 1276.75 L1243.39 1275.26 L1243.51 1273.76 L1243.64 1272.26 L1243.76 1270.77 L1243.88 1269.27 L1244.01 1267.77 L1244.13 1266.28 L1244.26 1264.78 L1244.38 1263.28 L1244.51 1261.79 L1244.64 1260.29 L1244.76 1258.79 L1244.89 1257.30 L1245.02 1255.80 L1245.15 1254.30 L1245.28 1252.81 L1245.40 1251.31 L1245.53 1249.82 L1245.66 1248.32 L1245.79 1246.82 L1245.92 1245.33 L1246.06 1243.83 L1246.19 1242.34 L1246.32 1240.84 L1246.45 1239.34 L1246.59 1237.85 L1246.72 1236.35 L1246.86 1234.86 L1246.99 1233.36 L1247.13 1231.87 L1247.26 1230.37 L1247.40 1228.88 L1247.54 1227.38 L1247.68 1225.89 L1247.82 1224.39 L1247.96 1222.90 L1248.10 1221.40 L1248.24 1219.91 L1248.38 1218.42 L1248.52 1216.92 L1248.67 1215.43 L1248.81 1213.93 L1248.95 1212.44 L1249.10 1210.94 L1249.25 1209.45 L1249.39 1207.96 L1249.54 1206.46 L1249.69 1204.97 L1249.84 1203.47 L1249.99 1201.98 L1250.14 1200.49 L1250.29 1198.99 L1250.45 1197.50 L1250.60 1196.01 L1250.75 1194.51 L1250.91 1193.02 L1251.07 1191.53 L1251.22 1190.03 L1251.38 1188.54 L1251.54 1187.04 L1251.70 1185.55 L1251.86 1184.06 L1252.03 1182.56 L1252.19 1181.07 L1252.35 1179.58 L1252.52 1178.08 L1252.68 1176.59 L1252.85 1175.10 L1253.02 1173.60 L1253.19 1172.11 L1253.36 1170.62 L1253.53 1169.12 L1253.70 1167.63 L1253.88 1166.14 L1254.05 1164.64 L1254.23 1163.15 L1254.41 1161.66 L1254.59 1160.16 L1254.77 1158.67 L1254.95 1157.17 L1255.13 1155.68 L1255.31 1154.19 L1255.50 1152.69 L1255.68 1151.20 L1255.87 1149.71 L1256.06 1148.21 L1256.25 1146.72 L1256.44 1145.22 L1256.63 1143.73 L1256.82 1142.23 L1257.02 1140.74 L1257.21 1139.25 L1257.41 1137.75 L1257.61 1136.26 L1257.81 1134.76 L1258.01 1133.27 L1258.22 1131.77 L1258.42 1130.28 L1258.63 1128.78 L1258.83 1127.29 L1259.04 1125.79 L1259.25 1124.30 L1259.46 1122.80 L1259.68 1121.31 L1259.89 1119.81 L1260.11 1118.31 L1260.33 1116.82 L1260.54 1115.32 L1260.76 1113.83 L1260.99 1112.33 L1261.21 1110.83 L1261.44 1109.34 L1261.66 1107.84 L1261.90 1106.35 L1262.13 1104.86 L1262.37 1103.37 L1262.61 1101.88 L1262.86 1100.40 L1263.11 1098.92 L1263.36 1097.44 L1263.63 1095.97 L1263.90 1094.51 L1264.17 1093.05 L1264.46 1091.60 L1264.75 1090.16 L1265.05 1088.72 L1265.35 1087.29 L1265.67 1085.88 L1266.00 1084.47 L1266.33 1083.07 L1266.68 1081.68 L1267.04 1080.30 L1267.41 1078.91 L1267.78 1077.52 L1268.17 1076.12 L1268.57 1074.69 L1268.98 1073.23 L1269.40 1071.73 L1269.82 1070.19 L1270.26 1068.60 L1270.71 1066.95 L1271.17 1065.27 L1271.66 1063.58 L1272.19 1061.93 L1272.77 1060.36 L1273.41 1058.89 L1274.12 1057.57 L1274.91 1056.43 L1275.79 1055.51 L1276.78 1054.84 L1277.85 1054.45 L1278.97 1054.35 L1280.10 1054.56 L1281.20 1055.08 L1282.24 1055.88 L1283.23 1056.88 L1284.17 1058.01 L1285.04 1059.20 L1285.87 1060.41 L1286.65 1061.65 L1287.38 1062.92 L1288.06 1064.21 L1288.71 1065.53 L1289.31 1066.86 L1289.88 1068.22 L1290.42 1069.60 L1290.92 1070.99 L1291.40 1072.40 L1291.85 1073.82 L1292.28 1075.25 L1292.69 1076.70 L1293.09 1078.15 L1293.46 1079.61 L1293.83 1081.07 L1294.19 1082.54 L1294.55 1084.01 L1294.90 1085.48 L1295.25 1086.95 L1295.59 1088.42 L1295.94 1089.89 L1296.28 1091.37 L1296.62 1092.84 L1296.95 1094.31 L1297.29 1095.78 L1297.62 1097.25 L1297.95 1098.73 L1298.27 1100.20 L1298.60 1101.67 L1298.92 1103.15 L1299.24 1104.62 L1299.55 1106.09 L1299.87 1107.57 L1300.18 1109.04 L1300.49 1110.52 L1300.80 1111.99 L1301.11 1113.47 L1301.41 1114.94 L1301.71 1116.42 L1302.01 1117.89 L1302.31 1119.37 L1302.60 1120.84 L1302.89 1122.32 L1303.18 1123.80 L1303.47 1125.27 L1303.76 1126.75 L1304.05 1128.23 L1304.33 1129.70 L1304.61 1131.18 L1304.89 1132.66 L1305.17 1134.14 L1305.44 1135.61 L1305.71 1137.09 L1305.99 1138.57 L1306.26 1140.05 L1306.52 1141.53 L1306.79 1143.01 L1307.06 1144.49 L1307.32 1145.96 L1307.58 1147.44 L1307.84 1148.92 L1308.10 1150.40 L1308.35 1151.88 L1308.61 1153.36 L1308.86 1154.84 L1309.11 1156.32 L1309.36 1157.80 L1309.61 1159.29 L1309.86 1160.77 L1310.11 1162.25 L1310.35 1163.73 L1310.59 1165.21 L1310.83 1166.69 L1311.08 1168.17 L1311.31 1169.66 L1311.55 1171.14 L1311.79 1172.62 L1312.02 1174.10 L1312.26 1175.58 L1312.49 1177.07 L1312.72 1178.55 L1312.95 1180.03 L1313.18 1181.52 L1313.41 1183.00 L1313.64 1184.48 L1313.86 1185.97 L1314.09 1187.45 L1314.31 1188.93 L1314.53 1190.42 L1314.75 1191.90 L1314.98 1193.38 L1315.20 1194.87 L1315.41 1196.35 L1315.63 1197.84 L1315.85 1199.32 L1316.07 1200.81 L1316.28 1202.29 L1316.50 1203.78 L1316.71 1205.26 L1316.92 1206.75 L1317.14 1208.23 L1317.35 1209.72 L1317.56 1211.20 L1317.77 1212.69 L1317.98 1214.17 L1318.19 1215.66 L1318.40 1217.15 L1318.60 1218.63 L1318.81 1220.12 L1319.02 1221.60 L1319.22 1223.09 L1319.43 1224.58 L1319.64 1226.06 L1319.84 1227.55 L1320.04 1229.04 L1320.25 1230.52 L1320.45 1232.01 L1320.66 1233.50 L1320.86 1234.99 L1321.06 1236.47 L1321.26 1237.96 L1321.47 1239.45 L1321.67 1240.93 L1321.87 1242.42 L1322.07 1243.91 L1322.27 1245.40 L1322.47 1246.89 L1322.68 1248.37 L1322.88 1249.86 L1323.08 1251.35 L1323.28 1252.84 L1323.48 1254.32 L1323.68 1255.81 L1323.88 1257.30 L1324.08 1258.79 L1324.28 1260.28 L1324.49 1261.77 L1324.69 1263.25 L1324.89 1264.74 L1325.09 1266.23 L1325.29 1267.72 L1325.49 1269.21 L1325.70 1270.70 L1325.90 1272.19 L1326.10 1273.67 L1326.30 1275.16 L1326.51 1276.65 L1326.71 1278.14 L1326.92 1279.63 L1327.12 1281.12 L1327.32 1282.61 L1327.53 1284.10 L1327.74 1285.59 L1327.94 1287.07 L1328.15 1288.56 L1328.36 1290.05 L1328.56 1291.54 L1328.77 1293.03 L1328.98 1294.52 L1329.19 1296.01 L1329.40 1297.50 L1329.61 1298.99 L1329.82 1300.48 L1330.03 1301.96 L1330.25 1303.45 L1330.46 1304.94 L1330.67 1306.43 L1330.89 1307.92 L1331.10 1309.41 L1331.32 1310.90 L1331.54 1312.38 L1331.76 1313.87 L1331.98 1315.36 L1332.20 1316.85 L1332.42 1318.34 L1332.64 1319.82 L1332.86 1321.31 L1333.08 1322.80 L1333.31 1324.29 L1333.53 1325.77 L1333.76 1327.26 L1333.99 1328.75 L1334.22 1330.23 L1334.45 1331.72 L1334.68 1333.21 L1334.91 1334.69 L1335.14 1336.18 L1335.38 1337.66 L1335.61 1339.15 L1335.85 1340.63 L1336.09 1342.12 L1336.33 1343.60 L1336.57 1345.09 L1336.81 1346.57 L1337.05 1348.06 L1337.29 1349.54 L1337.54 1351.02 L1337.79 1352.51 L1338.04 1353.99 L1338.29 1355.47 L1338.54 1356.95 L1338.79 1358.44 L1339.04 1359.92 L1339.30 1361.40 L1339.56 1362.88 L1339.81 1364.36 L1340.07 1365.84 L1340.34 1367.32 L1340.60 1368.80 L1340.86 1370.28 L1341.13 1371.76 L1341.40 1373.24 L1341.67 1374.72 L1341.94 1376.19 L1342.21 1377.67 L1342.49 1379.15 L1342.76 1380.62 L1343.04 1382.10 L1343.32 1383.58 L1343.60 1385.05 L1343.89 1386.53 L1344.17 1388.00 L1344.46 1389.48 L1344.75 1390.95 L1345.04 1392.42 L1345.34 1393.89 L1345.63 1395.37 L1345.93 1396.84 L1346.23 1398.31 L1346.53 1399.78 L1346.83 1401.25 L1347.14 1402.72 L1347.44 1404.19 L1347.75 1405.66 L1348.06 1407.13 L1348.38 1408.59 L1348.69 1410.06 L1349.01 1411.53 L1349.33 1412.99 L1349.65 1414.46 L1349.98 1415.92 L1350.30 1417.39 L1350.63 1418.85 L1350.97 1420.32 L1351.30 1421.78 L1351.63 1423.24 L1351.97 1424.70 L1352.31 1426.16 L1352.66 1427.62 L1353.00 1429.08 L1353.35 1430.54 L1353.70 1432.00 L1354.05 1433.46 L1354.41 1434.91 L1354.77 1436.37 L1355.13 1437.83 L1355.49 1439.28 L1355.86 1440.73 L1356.22 1442.19 L1356.59 1443.64 L1356.97 1445.09 L1357.34 1446.54 L1357.72 1448.00 L1358.10 1449.45 L1358.49 1450.89 L1358.87 1452.34 L1359.26 1453.79 L1359.66 1455.24 L1360.05 1456.68 L1360.45 1458.13 L1360.85 1459.57 L1361.25 1461.02 L1361.66 1462.46 L1362.07 1463.90 L1362.48 1465.35 L1362.90 1466.79 L1363.32 1468.23 L1363.74 1469.67 L1364.16 1471.10 L1364.59 1472.54 L1365.02 1473.98 L1365.46 1475.41 L1365.90 1476.85 L1366.34 1478.28 L1366.79 1479.71 L1367.23 1481.14 L1367.69 1482.57 L1368.15 1484.00 L1368.61 1485.43 L1369.07 1486.85 L1369.54 1488.28 L1370.01 1489.70 L1370.49 1491.13 L1370.97 1492.55 L1371.46 1493.97 L1371.94 1495.38 L1372.44 1496.80 L1372.94 1498.22 L1373.44 1499.63 L1373.95 1501.04 L1374.46 1502.46 L1374.97 1503.87 L1375.50 1505.27 L1376.02 1506.68 L1376.55 1508.09 L1377.09 1509.49 L1377.63 1510.89 L1378.17 1512.29 L1378.72 1513.69 L1379.28 1515.09 L1379.84 1516.48 L1380.41 1517.88 L1380.98 1519.27 L1381.56 1520.65 L1382.14 1522.04 L1382.73 1523.42 L1383.33 1524.80 L1383.93 1526.18 L1384.55 1527.55 L1385.17 1528.92 L1385.80 1530.28 L1386.44 1531.63 L1387.09 1532.99 L1387.75 1534.33 L1388.41 1535.67 L1389.09 1537.01 L1389.78 1538.33 L1390.48 1539.65 L1391.19 1540.97 L1391.91 1542.27 L1392.65 1543.57 L1393.40 1544.86 L1394.16 1546.14 L1394.93 1547.41 L1395.72 1548.67 L1396.52 1549.92 L1397.33 1551.17 L1398.16 1552.40 L1399.01 1553.62 L1399.87 1554.83 L1400.74 1556.03 L1401.63 1557.22 L1402.54 1558.40 L1403.46 1559.57 L1404.41 1560.72 L1405.36 1561.86 L1406.34 1562.99 L1407.33 1564.10 L1408.34 1565.20 L1409.37 1566.29 L1410.41 1567.37 L1411.47 1568.43 L1412.54 1569.48 L1413.63 1570.51 L1414.73 1571.54 L1415.85 1572.54 L1416.98 1573.54 L1418.12 1574.52 L1419.28 1575.49 L1420.45 1576.44 L1421.63 1577.38 L1422.83 1578.30 L1424.04 1579.21 L1425.26 1580.11 L1426.49 1580.99 L1427.73 1581.86 L1428.99 1582.71 L1430.25 1583.55 L1431.52 1584.38 L1432.81 1585.19 L1434.10 1585.98 L1435.41 1586.76 L1436.72 1587.52 L1438.04 1588.27 L1439.37 1589.01 L1440.71 1589.73 L1442.05 1590.43 L1443.41 1591.12 L1444.77 1591.79 L1446.13 1592.45 L1447.50 1593.09 L1448.88 1593.72 L1450.27 1594.32 L1451.66 1594.92 L1453.06 1595.50 L1454.46 1596.06 L1455.86 1596.60 L1457.27 1597.13 L1458.68 1597.65 L1460.10 1598.14 L1461.52 1598.62 L1462.95 1599.09 L1464.37 1599.53 L1465.80 1599.97 L1467.24 1600.38 L1468.67 1600.79 L1470.11 1601.17 L1471.56 1601.55 L1473.00 1601.91 L1474.45 1602.25 L1475.90 1602.58 L1477.36 1602.90 L1478.81 1603.21 L1480.27 1603.50 L1481.73 1603.78 L1483.20 1604.04 L1484.67 1604.30 L1486.13 1604.54 L1487.61 1604.77 L1489.08 1604.99 L1490.56 1605.20 L1492.03 1605.40 L1493.51 1605.59 L1495.00 1605.77 L1496.48 1605.94 L1497.97 1606.09 L1499.46 1606.24 L1500.95 1606.38 L1502.44 1606.51 L1503.93 1606.64 L1505.42 1606.75 L1506.92 1606.85 L1508.42 1606.95 L1509.92 1607.04 L1511.42 1607.13 L1512.92 1607.20 L1514.42 1607.27 L1515.92 1607.33 L1517.43 1607.39 L1518.94 1607.44 L1520.44 1607.49 L1521.95 1607.53 L1523.46 1607.56 L1524.97 1607.59 L1526.48 1607.61 L1527.99 1607.63 L1529.50 1607.65 L1531.01 1607.66 L1532.52 1607.67 L1534.04 1607.68 L1535.55 1607.68 L1537.06 1607.68 L1538.58 1607.68 L1540.09 1607.67 L1541.60 1607.67 L1543.12 1607.66 L1544.63 1607.65 L1546.14 1607.64 L1547.66 1607.62 L1549.17 1607.61 L1550.68 1607.60 L1552.19 1607.59 L1553.71 1607.57 L1555.22 1607.56 L1556.73 1607.55 L1558.24 1607.54 L1559.75 1607.53 L1561.26 1607.52 L1562.76 1607.51 L1564.27 1607.51 L1565.78 1607.51 L1567.28 1607.51 L1568.79 1607.51 L1570.29 1607.52 L1571.79 1607.53 L1573.29 1607.54 L1574.79 1607.56 L1576.29 1607.58 L1577.79 1607.61 L1579.28 1607.64 L1580.77 1607.67 L1582.27 1607.71 L1583.76 1607.76 L1585.24 1607.81 L1586.73 1607.87 L1588.22 1607.94 L1589.70 1608.01" fill="none" stroke="#0070C0" stroke-width="5.3" stroke-linejoin="round" stroke-linecap="butt"/>
</svg>
</body></html>
